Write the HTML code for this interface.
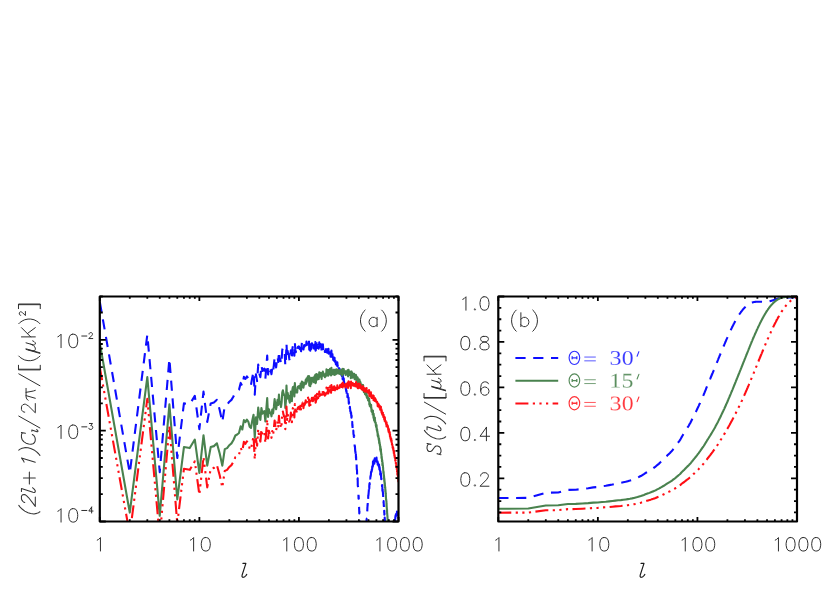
<!DOCTYPE html>
<html><head><meta charset="utf-8"><title>fig</title><style>html,body{margin:0;padding:0;background:#fff}body{width:830px;height:593px;overflow:hidden;font-family:"Liberation Sans",sans-serif}svg{display:block}</style></head><body>
<svg width="830" height="593" viewBox="0 0 830 593">
<rect width="830" height="593" fill="#fff"/>
<defs><clipPath id="c1"><rect x="99.8" y="296.5" width="298.7" height="225.0"/></clipPath>
<clipPath id="c2"><rect x="498.3" y="295.3" width="299.9" height="226.2"/></clipPath></defs>
<g clip-path="url(#c1)">
<path d="M99.80 301.84L129.77 473.23L147.31 334.67L159.75 472.09L169.39 358.69L177.28 458.04L183.94 403.36L189.72 404.37L194.81 395.87L199.37 429.20L203.49 391.58L207.25 421.97L210.71 403.45L213.92 402.50L216.90 399.74L219.69 409.93L222.31 422.08L224.78 405.59L227.12 404.60L229.34 401.70L231.45 399.90L233.46 396.50L235.38 392.06L237.22 391.07L238.99 389.64L240.68 382.94L242.32 386.14L243.89 376.80L245.41 378.87L246.87 376.42L248.29 378.33L249.66 383.63L250.99 384.82L252.28 377.39L253.54 371.73L254.76 394.71L255.94 374.37L257.09 381.08L258.22 364.64L259.31 373.46L260.38 377.21L261.42 365.21L262.44 371.06L263.43 369.27L264.40 368.58L265.36 378.89L266.29 367.14L267.20 355.54L268.09 374.53L268.96 367.00L269.82 370.60L270.66 370.29L271.48 374.17L272.29 367.40L273.08 371.44L273.86 365.01L274.63 357.12L275.38 363.26L276.12 367.46L276.84 361.29L277.56 356.56L278.26 361.93L278.95 351.43L279.64 360.63L280.31 359.16L280.97 364.18L281.62 359.96L282.26 349.99L282.89 347.72L283.51 350.89L284.12 352.80L284.73 353.55L285.32 365.79L285.91 359.09L286.49 343.37L287.07 356.78L287.63 350.83L288.19 353.87L288.74 354.13L289.28 358.92L289.82 361.13L290.35 355.59L290.88 350.19L291.39 353.53L291.91 360.02L292.41 348.44L292.91 346.00L293.41 346.11L293.89 345.74L294.38 355.74L294.86 342.47L295.33 349.42L295.80 352.18L296.26 350.01L296.72 350.81L297.17 352.61L297.62 347.65L298.06 346.76L298.50 347.93L298.93 346.42L299.36 347.46L299.79 349.29L300.21 348.58L300.63 344.58L301.04 351.30L301.45 347.97L301.86 342.82L302.26 345.13L302.66 343.66L303.05 345.71L303.45 349.48L303.83 346.82L304.22 345.08L304.60 346.65L304.98 345.87L305.35 344.71L305.72 342.49L306.09 346.57L306.46 341.58L306.82 345.08L307.18 342.11L307.53 341.67L307.88 339.85L308.24 341.87L308.58 341.84L308.93 340.04L309.27 349.69L309.61 347.57L309.94 342.03L310.28 350.82L310.61 344.40L310.94 344.43L311.26 348.92L311.59 347.34L311.91 343.19L312.23 343.50L312.55 346.46L312.86 347.10L313.17 346.83L313.48 343.85L313.79 348.49L314.10 345.07L314.40 348.65L314.70 343.03L315.00 344.77L315.30 342.14L315.59 350.59L315.89 350.01L316.18 346.87L316.47 342.05L316.75 348.13L317.04 342.72L317.32 345.34L317.60 345.43L317.88 344.33L318.16 348.04L318.44 347.29L318.71 348.67L318.99 345.94L319.26 342.26L319.53 347.11L319.79 345.38L320.06 345.75L320.32 346.22L320.59 347.08L320.85 344.07L321.11 346.73L321.37 348.01L321.62 350.81L321.88 345.03L322.13 345.78L322.38 346.86L322.63 347.87L322.88 344.42L323.13 347.83L323.38 349.17L323.62 346.94L323.87 348.85L324.11 348.41L324.35 349.23L324.59 349.03L324.83 352.00L325.06 350.64L325.30 350.63L325.53 352.01L325.77 350.03L326.00 349.18L326.23 351.74L326.46 345.88L326.69 350.50L326.91 349.64L327.14 352.67L327.37 352.46L327.59 347.84L327.81 349.96L328.03 351.64L328.25 354.11L328.47 348.76L328.69 353.71L328.91 353.06L329.12 352.69L329.34 351.94L329.55 352.81L329.76 353.12L329.97 349.60L330.18 353.32L330.39 352.91L330.60 356.59L330.81 352.79L331.02 357.64L331.22 355.91L331.43 350.60L331.63 356.59L331.83 355.48L332.03 357.79L332.23 358.04L332.43 354.15L332.63 357.29L332.83 356.92L333.03 357.57L333.22 359.89L333.42 357.84L333.61 355.91L333.81 359.48L334.00 357.60L334.19 356.72L334.38 361.12L334.57 357.72L334.76 362.95L334.95 358.69L335.14 360.78L335.32 362.43L335.51 361.01L335.69 362.17L335.88 364.33L336.06 359.87L336.25 360.04L336.43 364.15L336.61 363.43L336.79 363.89L336.97 363.81L337.15 365.90L337.33 362.39L337.50 364.29L337.68 366.37L337.86 365.91L338.03 366.73L338.21 366.11L338.38 365.05L338.55 365.40L338.73 368.71L338.90 367.10L339.07 369.15L339.24 370.94L339.41 370.21L339.58 368.84L339.75 371.76L339.92 370.81L340.08 369.28L340.25 371.58L340.42 372.04L340.58 372.82L340.75 374.71L340.91 372.56L341.07 372.49L341.24 372.79L341.40 375.07L341.56 375.46L341.72 372.94L341.88 376.26L342.04 375.70L342.20 380.29L342.36 377.83L342.52 378.30L342.68 379.48L342.83 375.15L342.99 378.60L343.15 381.56L343.30 378.96L343.46 379.56L343.61 380.02L343.76 378.30L343.92 381.16L344.07 381.56L344.22 383.19L344.37 384.20L344.52 383.20L344.67 383.87L344.82 385.65L344.97 385.55L345.12 385.22L345.27 385.67L345.42 387.34L345.57 390.26L345.71 387.25L345.86 388.75L346.00 390.22L346.15 390.14L346.29 391.78L346.44 390.23L346.58 391.77L346.73 394.33L346.87 391.92L347.01 392.33L347.15 393.98L347.29 393.54L347.44 397.25L347.58 393.68L347.72 395.81L347.86 395.37L348.00 401.49L348.13 400.53L348.27 399.88L348.41 400.16L348.55 397.57L348.69 401.15L348.82 403.66L348.96 401.77L349.09 402.99L349.23 405.09L349.36 403.52L349.50 403.75L349.63 406.63L349.77 408.46L349.90 406.81L350.03 408.01L350.17 409.83L350.30 411.39L350.43 411.39L350.56 411.12L350.69 412.54L350.82 417.54L350.95 413.37L351.08 412.47L351.21 415.42L351.34 415.58L351.47 417.69L351.60 415.59L351.72 419.48L351.85 418.30L351.98 419.03L352.10 422.42L352.23 421.90L352.36 426.26L352.48 424.46L352.61 428.19L352.73 426.16L352.86 428.58L352.98 429.22L353.10 431.22L353.23 430.59L353.35 430.92L353.47 434.31L353.60 434.52L353.72 434.75L353.84 437.07L353.96 435.46L354.08 435.42L354.20 439.12L354.32 440.75L354.44 441.54L354.56 444.07L354.68 446.12L354.80 446.32L354.92 446.12L355.04 448.12L355.16 450.16L355.27 451.60L355.39 451.43L355.51 453.18L355.62 452.97L355.74 456.78L355.86 453.02L355.97 458.15L356.09 456.44L356.20 461.29L356.32 461.48L356.43 464.35L356.55 462.67L356.66 465.61L356.77 469.11L356.89 469.90L357.00 470.23L357.11 475.16L357.23 475.43L357.34 476.88L357.45 480.95L357.56 479.06L357.67 478.38L357.78 485.44L357.89 486.40L358.00 486.44L358.12 487.95L358.22 489.93L358.33 492.73L358.44 495.04L358.55 498.66L358.66 495.86L358.77 498.72L358.88 503.66L358.99 505.04L359.09 507.66L359.20 510.20L359.31 513.51L359.42 511.38L359.52 517.37L359.63 518.70L359.73 522.65L359.84 524.78L359.95 525.90L360.05 530.87L360.16 532.02L360.26 538.14L360.37 539.62L360.47 542.05L360.57 546.48L360.68 552.10L360.78 556.32L360.89 559.62L360.99 564.24L361.09 567.42L361.19 572.81L361.30 578.54L361.40 584.45L361.50 584.99L361.60 584.99L361.70 584.99L361.80 584.99L361.90 584.99L362.01 584.99L362.11 584.99L362.21 584.99L362.31 584.99L362.41 584.99L362.51 584.99L362.60 584.99L362.70 584.99L362.80 584.99L362.90 584.99L363.00 584.99L363.10 584.99L363.20 584.99L363.29 584.99L363.39 584.99L363.49 584.99L363.59 584.99L363.68 584.99L363.78 584.99L363.88 584.99L363.97 584.99L364.07 584.99L364.16 584.99L364.26 584.99L364.35 584.99L364.45 584.64L364.54 580.39L364.64 577.54L364.73 572.34L364.83 569.64L364.92 564.39L365.02 564.77L365.11 559.27L365.20 554.51L365.30 552.21L365.39 549.31L365.48 546.73L365.57 544.93L365.67 543.82L365.76 539.65L365.85 538.49L365.94 536.07L366.04 533.74L366.13 531.53L366.22 530.73L366.31 526.73L366.40 525.47L366.49 522.46L366.58 519.59L366.67 519.51L366.76 518.67L366.85 518.86L366.94 515.70L367.03 513.90L367.12 512.32L367.21 511.20L367.30 510.51L367.39 507.38L367.48 507.01L367.57 504.62L367.65 505.55L367.74 503.07L367.83 500.79L367.92 499.64L368.01 501.36L368.09 499.02L368.18 498.27L368.27 495.31L368.35 495.26L368.44 495.57L368.53 493.84L368.61 493.46L368.70 491.89L368.79 491.55L368.87 489.88L368.96 487.81L369.04 485.66L369.13 486.63L369.21 484.54L369.30 488.42L369.38 484.45L369.47 483.61L369.55 483.22L369.64 483.15L369.72 485.11L369.81 482.93L369.89 481.28L369.97 479.89L370.06 480.81L370.14 479.11L370.22 478.66L370.31 478.04L370.39 477.26L370.47 476.02L370.55 476.57L370.64 475.81L370.72 476.16L370.80 475.04L370.88 475.04L370.97 473.08L371.05 470.65L371.13 470.47L371.21 472.93L371.29 471.16L371.37 471.18L371.45 472.97L371.53 473.04L371.61 470.85L371.69 469.84L371.78 470.90L371.86 470.08L371.94 469.59L372.02 469.34L372.09 469.36L372.17 467.77L372.25 466.39L372.33 466.51L372.41 467.57L372.49 466.41L372.57 465.87L372.65 467.87L372.73 464.21L372.81 465.91L372.88 466.34L372.96 461.60L373.04 465.51L373.12 464.45L373.20 464.70L373.27 462.48L373.35 463.74L373.43 464.90L373.51 465.49L373.58 463.43L373.66 460.34L373.74 463.67L373.81 460.82L373.89 463.10L373.97 463.70L374.04 464.48L374.12 461.86L374.19 461.22L374.27 461.53L374.34 463.63L374.42 461.86L374.50 460.68L374.57 461.57L374.65 460.33L374.72 458.30L374.80 462.24L374.87 457.61L374.95 461.77L375.02 460.59L375.09 460.53L375.17 459.39L375.24 460.70L375.32 460.21L375.39 460.33L375.46 459.68L375.54 459.67L375.61 460.20L375.68 459.19L375.76 458.53L375.83 460.90L375.90 460.83L375.98 460.89L376.05 460.98L376.12 460.95L376.19 460.21L376.27 459.47L376.34 461.10L376.41 459.94L376.48 460.93L376.56 457.66L376.63 460.33L376.70 459.86L376.77 461.83L376.84 461.78L376.91 460.70L376.98 461.86L377.06 461.20L377.13 459.95L377.20 462.15L377.27 462.39L377.34 461.43L377.41 462.02L377.48 461.18L377.55 462.16L377.62 463.31L377.69 464.62L377.76 462.10L377.83 463.40L377.90 462.68L377.97 464.93L378.04 463.98L378.11 462.97L378.18 462.42L378.25 462.59L378.31 462.56L378.38 464.18L378.45 463.33L378.52 464.23L378.59 465.09L378.66 465.55L378.73 466.13L378.79 464.42L378.86 465.73L378.93 466.81L379.00 466.43L379.07 464.51L379.13 468.33L379.20 468.56L379.27 465.83L379.34 469.20L379.40 466.47L379.47 468.87L379.54 468.14L379.61 467.47L379.67 467.79L379.74 468.68L379.81 469.87L379.87 470.48L379.94 470.79L380.01 469.19L380.07 470.87L380.14 470.32L380.20 474.49L380.27 472.70L380.34 472.37L380.40 473.49L380.47 471.18L380.53 475.08L380.60 473.70L380.66 473.72L380.73 475.97L380.79 474.58L380.86 475.48L380.92 473.25L380.99 475.23L381.05 477.29L381.12 476.66L381.18 477.73L381.25 479.12L381.31 478.40L381.38 479.06L381.44 478.38L381.50 482.07L381.57 482.52L381.63 482.40L381.70 481.40L381.76 481.48L381.82 483.29L381.89 483.43L381.95 484.20L382.01 486.52L382.08 486.24L382.14 484.97L382.20 485.62L382.27 485.85L382.33 486.96L382.39 490.94L382.45 488.59L382.52 489.14L382.58 491.55L382.64 488.81L382.70 491.58L382.77 491.08L382.83 491.91L382.89 492.77L382.95 492.62L383.02 494.92L383.08 494.48L383.14 495.70L383.20 498.17L383.26 498.29L383.32 499.60L383.38 500.96L383.45 501.49L383.51 500.13L383.57 502.88L383.63 501.17L383.69 503.25L383.75 504.08L383.81 505.91L383.87 505.06L383.93 507.24L383.99 506.48L384.05 507.30L384.11 510.66L384.17 509.29L384.23 512.82L384.30 510.76L384.36 514.72L384.42 514.57L384.47 513.10L384.53 515.19L384.59 515.68L384.65 519.92L384.71 517.62L384.77 520.31L384.83 518.80L384.89 521.51L384.95 522.74L385.01 525.40L385.07 525.78L385.13 526.01L385.19 525.73L385.25 526.99L385.30 529.75L385.36 531.87L385.42 533.18L385.48 531.43L385.54 534.12L385.60 536.80L385.65 535.48L385.71 537.80L385.77 538.93L385.83 540.22L385.89 542.15L385.94 544.45L386.00 547.07L386.06 548.26L386.12 549.31L386.18 549.43L386.23 552.29L386.29 552.33L386.35 553.87L386.40 554.94L386.46 556.62L386.52 562.67L386.58 560.09L386.63 563.34L386.69 565.28L386.75 567.99L386.80 569.06L386.86 571.22L386.92 574.08L386.97 577.40L387.03 576.34L387.09 579.38L387.14 583.25L387.20 584.99L387.25 584.99L387.31 584.99L387.37 584.99L387.42 584.99L387.48 584.99L387.53 584.99L387.59 584.99L387.65 584.99L387.70 584.99L387.76 584.99L387.81 584.99L387.87 584.99L387.92 584.99L387.98 584.99L388.03 584.99L388.09 584.99L388.14 584.99L388.20 584.99L388.25 584.99L388.31 584.99L388.36 584.99L388.42 584.99L388.47 584.99L388.53 584.99L388.58 584.99L388.63 584.99L388.69 584.99L388.74 584.99L388.80 584.99L388.85 584.99L388.91 584.99L388.96 584.99L389.01 584.99L389.07 584.99L389.12 584.99L389.17 584.99L389.23 584.99L389.28 584.99L389.33 584.99L389.39 584.99L389.44 584.99L389.49 584.99L389.55 584.99L389.60 584.99L389.65 584.99L389.71 584.99L389.76 584.99L389.81 584.99L389.87 584.99L389.92 584.99L389.97 584.99L390.02 584.99L390.08 584.99L390.13 584.99L390.18 584.99L390.23 584.99L390.29 584.99L390.34 584.99L390.39 584.99L390.44 584.99L390.49 584.99L390.55 584.99L390.60 584.99L390.65 584.99L390.70 584.99L390.75 584.99L390.81 584.99L390.86 584.99L390.91 584.99L390.96 584.99L391.01 584.99L391.06 584.99L391.11 583.84L391.17 582.88L391.22 578.85L391.27 579.38L391.32 577.99L391.37 575.27L391.42 574.78L391.47 571.40L391.52 570.82L391.57 570.37L391.62 566.12L391.68 567.32L391.73 565.65L391.78 564.02L391.83 562.73L391.88 561.44L391.93 561.85L391.98 559.38L392.03 560.19L392.08 557.40L392.13 556.18L392.18 554.48L392.23 554.69L392.28 552.65L392.33 552.32L392.38 550.85L392.43 550.83L392.48 548.10L392.53 547.24L392.58 548.69L392.63 546.57L392.68 545.80L392.73 546.47L392.78 544.97L392.82 543.22L392.87 543.32L392.92 541.27L392.97 539.98L393.02 540.49L393.07 538.60L393.12 537.16L393.17 538.33L393.22 535.96L393.27 535.27L393.31 534.44L393.36 535.03L393.41 534.15L393.46 534.54L393.51 532.36L393.56 531.88L393.61 531.64L393.65 531.43L393.70 531.48L393.75 532.42L393.80 530.30L393.85 530.86L393.90 528.87L393.94 529.00L393.99 525.60L394.04 527.83L394.09 527.65L394.14 524.66L394.18 527.38L394.23 524.34L394.28 523.87L394.33 524.66L394.37 525.39L394.42 524.31L394.47 523.23L394.52 522.18L394.56 522.09L394.61 521.83L394.66 522.27L394.71 520.54L394.75 522.13L394.80 521.48L394.85 520.37L394.89 519.51L394.94 519.48L394.99 519.14L395.04 519.76L395.08 518.14L395.13 520.67L395.18 519.10L395.22 519.45L395.27 518.98L395.32 517.35L395.36 516.77L395.41 518.18L395.45 517.06L395.50 515.12L395.55 516.35L395.59 515.10L395.64 515.27L395.69 514.98L395.73 516.14L395.78 515.36L395.82 513.46L395.87 516.06L395.92 516.23L395.96 513.94L396.01 515.45L396.05 514.74L396.10 514.12L396.15 514.90L396.19 514.64L396.24 515.39L396.28 514.36L396.33 515.33L396.37 513.69L396.42 513.88L396.46 512.94L396.51 514.06L396.55 512.82L396.60 512.68L396.64 512.56L396.69 512.95L396.73 513.20L396.78 513.32L396.82 513.95L396.87 513.57L396.91 513.55L396.96 511.66L397.00 514.60L397.05 513.75L397.09 513.29L397.14 514.38L397.18 512.92L397.23 514.17L397.27 513.32L397.32 513.64L397.36 515.73L397.41 513.25L397.45 514.97L397.49 513.62L397.54 512.68L397.58 513.28L397.63 514.14L397.67 514.17L397.71 514.16L397.76 514.61L397.80 515.26L397.85 514.63L397.89 514.81L397.93 513.07L397.98 514.56L398.02 513.17L398.07 515.31L398.11 515.11L398.15 515.55L398.20 516.46L398.24 516.73L398.28 516.31L398.33 515.39L398.37 517.36L398.41 517.79L398.46 516.85L398.50 517.56" fill="none" stroke="#0d0dff" stroke-width="2.10" stroke-linejoin="round" stroke-dasharray="10.2 7.6"/>
<path d="M99.80 343.13L129.77 512.57L147.31 377.04L159.75 515.82L169.39 404.39L177.28 499.42L183.94 447.07L189.72 448.07L194.81 439.56L199.37 472.87L203.49 435.24L207.25 465.63L210.71 447.09L213.92 446.12L216.90 443.34L219.69 453.52L222.31 465.65L224.78 449.14L227.12 448.13L229.34 445.21L231.45 443.38L233.46 439.96L235.38 435.50L237.22 434.48L238.99 433.03L240.68 426.29L242.32 429.46L243.89 420.09L245.41 422.13L246.87 419.64L248.29 421.52L249.66 426.79L250.99 427.94L252.28 420.47L253.54 414.77L254.76 437.71L255.94 417.33L257.09 424.00L258.22 407.52L259.31 416.29L260.38 420.00L261.42 407.94L262.44 413.75L263.43 411.91L264.40 411.17L265.36 421.43L266.29 409.63L267.20 397.97L268.09 416.91L268.96 409.32L269.82 412.86L270.66 412.50L271.48 416.31L272.29 409.48L273.08 413.46L273.86 406.97L274.63 399.01L275.38 405.09L276.12 409.22L276.84 404.53L277.56 399.73L278.26 405.03L278.95 394.46L279.64 403.59L280.31 402.05L280.97 406.99L281.62 402.69L282.26 392.64L282.89 390.29L283.51 393.39L284.12 395.21L284.73 395.89L285.32 408.03L285.91 401.25L286.49 385.45L287.07 398.77L287.63 392.73L288.19 395.68L288.74 395.86L289.28 400.55L289.82 402.66L290.35 397.03L290.88 391.53L291.39 394.78L291.91 401.18L292.41 389.49L292.91 386.95L293.41 386.96L293.89 386.48L294.38 396.38L294.86 383.01L295.33 389.85L295.80 392.50L296.26 390.23L296.72 390.91L297.17 392.60L297.62 387.53L298.06 386.53L298.50 387.58L298.93 385.95L299.36 386.88L299.79 388.59L300.21 387.76L300.63 383.64L301.04 390.23L301.45 386.78L301.86 381.50L302.26 383.68L302.66 382.09L303.05 384.01L303.45 387.65L303.83 384.86L304.22 382.98L304.60 384.42L304.98 383.50L305.35 382.20L305.72 379.84L306.09 383.78L306.46 378.65L306.82 382.00L307.18 378.89L307.53 378.30L307.88 376.34L308.24 378.21L308.58 378.04L308.93 376.08L309.27 385.58L309.61 383.31L309.94 377.61L310.28 386.24L310.61 379.66L310.94 379.53L311.26 383.86L311.59 382.12L311.91 377.81L312.23 377.95L312.55 380.75L312.86 381.23L313.17 380.78L313.48 377.63L313.79 382.10L314.10 378.50L314.40 381.92L314.70 376.11L315.00 377.68L315.30 374.87L315.59 383.14L315.89 382.38L316.18 379.05L316.47 374.05L316.75 379.93L317.04 374.34L317.32 376.77L317.60 376.67L317.88 375.37L318.16 378.90L318.44 377.95L318.71 379.13L318.99 376.20L319.26 372.32L319.53 376.97L319.79 375.03L320.06 375.20L320.32 375.46L320.59 376.11L320.85 372.89L321.11 375.34L321.37 376.41L321.62 378.99L321.88 373.00L322.13 373.53L322.38 374.39L322.63 375.18L322.88 371.51L323.13 374.69L323.38 375.80L323.62 373.34L323.87 375.02L324.11 374.36L324.35 374.95L324.59 374.51L324.83 377.24L325.06 375.64L325.30 375.39L325.53 376.53L325.77 374.30L326.00 373.21L326.23 375.52L326.46 369.42L326.69 373.79L326.91 372.68L327.14 375.45L327.37 374.98L327.59 370.11L327.81 371.96L328.03 373.38L328.25 375.60L328.47 369.98L328.69 374.66L328.91 373.74L329.12 373.10L329.34 372.08L329.55 372.68L329.76 372.71L329.97 368.90L330.18 372.34L330.39 371.66L330.60 375.05L330.81 370.96L331.02 375.52L331.22 373.50L331.43 367.90L331.63 373.60L331.83 372.18L332.03 374.20L332.23 374.15L332.43 369.96L332.63 372.79L332.83 372.11L333.03 372.45L333.22 374.46L333.42 372.09L333.61 369.85L333.81 373.11L334.00 370.90L334.19 369.70L334.38 373.77L334.57 370.04L334.76 374.94L334.95 370.36L335.14 372.11L335.32 373.42L335.51 371.66L335.69 372.48L335.88 374.30L336.06 369.49L336.25 369.31L336.43 373.07L336.61 371.99L336.79 372.11L336.97 371.67L337.15 373.39L337.33 369.52L337.50 371.05L337.68 372.76L337.86 371.93L338.03 372.37L338.21 371.38L338.38 369.94L338.55 369.90L338.73 372.84L338.90 370.84L339.07 372.49L339.24 373.89L339.41 372.77L339.58 370.99L339.75 373.51L339.92 372.16L340.08 370.22L340.25 372.11L340.42 372.16L340.58 372.53L340.75 374.00L340.91 371.41L341.07 370.93L341.24 370.79L341.40 372.64L341.56 372.60L341.72 369.64L341.88 372.52L342.04 371.51L342.20 375.65L342.36 372.74L342.52 372.75L342.68 373.48L342.83 368.69L342.99 371.67L343.15 374.16L343.30 371.09L343.46 371.22L343.61 371.19L343.76 368.99L343.92 371.36L344.07 371.27L344.22 372.40L344.37 372.92L344.52 371.42L344.67 371.58L344.82 372.85L344.97 372.24L345.12 371.39L345.27 371.31L345.42 372.45L345.57 374.84L345.71 371.30L345.86 372.26L346.00 373.19L346.15 372.55L346.29 373.64L346.44 371.53L346.58 372.51L346.73 374.51L346.87 371.53L347.01 371.36L347.15 372.43L347.29 371.40L347.44 374.52L347.58 370.35L347.72 371.88L347.86 370.84L348.00 376.34L348.13 374.77L348.27 373.49L348.41 373.15L348.55 369.92L348.69 372.87L348.82 374.73L348.96 372.19L349.09 372.75L349.23 374.19L349.36 371.95L349.50 371.50L349.63 373.70L349.77 374.85L349.90 372.50L350.03 373.00L350.17 374.11L350.30 374.96L350.43 374.24L350.56 373.24L350.69 373.92L350.82 378.18L350.95 373.26L351.08 371.61L351.21 373.79L351.34 373.17L351.47 374.51L351.60 371.61L351.72 374.71L351.85 372.72L351.98 372.64L352.10 375.20L352.23 373.85L352.36 377.37L352.48 374.72L352.61 377.58L352.73 374.69L352.86 376.23L352.98 375.98L353.10 377.08L353.23 375.54L353.35 374.95L353.47 377.41L353.60 376.67L353.72 375.95L353.84 377.30L353.96 374.71L354.08 373.68L354.20 376.38L354.32 376.99L354.44 376.76L354.56 378.24L354.68 379.24L354.80 378.37L354.92 377.08L355.04 377.98L355.16 378.90L355.27 379.21L355.39 377.89L355.51 378.48L355.62 377.09L355.74 379.70L355.86 374.73L355.97 378.62L356.09 375.65L356.20 379.23L356.32 378.13L356.43 379.68L356.55 376.66L356.66 378.24L356.77 380.35L356.89 379.74L357.00 378.63L357.11 382.11L357.23 380.90L357.34 380.84L357.45 383.37L357.56 379.90L357.67 377.62L357.78 383.04L357.89 382.34L358.00 380.68L358.12 380.45L358.22 380.66L358.33 381.64L358.44 382.10L358.55 383.82L358.66 379.08L358.77 379.94L358.88 382.85L358.99 382.13L359.09 382.60L359.20 382.94L359.31 383.98L359.42 379.51L359.52 383.11L359.63 381.96L359.73 383.36L359.84 382.86L359.95 381.26L360.05 383.41L360.16 381.65L360.26 384.74L360.37 383.08L360.47 382.25L360.57 383.28L360.68 385.35L360.78 385.85L360.89 385.26L360.99 385.79L361.09 384.66L361.19 385.50L361.30 386.41L361.40 387.19L361.50 386.58L361.60 385.95L361.70 385.11L361.80 385.73L361.90 385.53L362.01 384.89L362.11 386.18L362.21 388.80L362.31 387.38L362.41 389.00L362.51 387.23L362.60 389.80L362.70 387.83L362.80 387.76L362.90 387.33L363.00 388.28L363.10 385.03L363.20 389.18L363.29 387.72L363.39 389.56L363.49 390.38L363.59 389.90L363.68 391.35L363.78 389.44L363.88 392.13L363.97 388.96L364.07 390.28L364.16 389.54L364.26 392.06L364.35 388.85L364.45 389.41L364.54 389.88L364.64 391.49L364.73 390.48L364.83 391.77L364.92 390.29L365.02 394.28L365.11 392.20L365.20 390.73L365.30 391.57L365.39 391.69L365.48 392.00L365.57 392.99L365.67 394.56L365.76 392.99L365.85 394.33L365.94 394.32L366.04 394.34L366.13 394.39L366.22 395.79L366.31 393.93L366.40 394.74L366.49 393.74L366.58 392.82L366.67 394.64L366.76 395.65L366.85 397.65L366.94 396.25L367.03 396.17L367.12 396.26L367.21 396.77L367.30 397.68L367.39 396.11L367.48 397.26L367.57 396.37L367.65 398.75L367.74 397.70L367.83 396.82L367.92 397.04L368.01 400.10L368.09 399.07L368.18 399.61L368.27 397.91L368.35 399.10L368.44 400.62L368.53 400.09L368.61 400.88L368.70 400.46L368.79 401.24L368.87 400.68L368.96 399.69L369.04 398.61L369.13 400.63L369.21 399.58L369.30 404.47L369.38 401.50L369.47 401.64L369.55 402.22L369.64 403.10L369.72 406.00L369.81 404.73L369.89 403.99L369.97 403.49L370.06 405.29L370.14 404.46L370.22 404.85L370.31 405.07L370.39 405.12L370.47 404.69L370.55 406.04L370.64 406.07L370.72 407.20L370.80 406.85L370.88 407.60L370.97 406.39L371.05 404.69L371.13 405.23L371.21 408.40L371.29 407.34L371.37 408.05L371.45 410.53L371.53 411.27L371.61 409.74L371.69 409.39L371.78 411.09L371.86 410.91L371.94 411.05L372.02 411.42L372.09 412.05L372.17 411.07L372.25 410.28L372.33 410.99L372.41 412.63L372.49 412.04L372.57 412.07L372.65 414.62L372.73 411.52L372.81 413.76L372.88 414.72L372.96 410.51L373.04 414.94L373.12 414.39L373.20 415.15L373.27 413.44L373.35 415.18L373.43 416.83L373.51 417.91L373.58 416.32L373.66 413.70L373.74 417.49L373.81 415.09L373.89 417.83L373.97 418.87L374.04 420.08L374.12 417.90L374.19 417.68L374.27 418.41L374.34 420.93L374.42 419.57L374.50 418.79L374.57 420.08L374.65 419.23L374.72 417.59L374.80 421.91L374.87 417.66L374.95 422.19L375.02 421.37L375.09 421.68L375.17 420.89L375.24 422.55L375.32 422.41L375.39 422.87L375.46 422.56L375.54 422.88L375.61 423.74L375.68 423.05L375.76 422.71L375.83 425.39L375.90 425.63L375.98 425.99L376.05 426.38L376.12 426.65L376.19 426.19L376.27 425.74L376.34 427.65L376.41 426.76L376.48 428.02L376.56 425.02L376.63 427.95L376.70 427.74L376.77 429.96L376.84 430.17L376.91 429.33L376.98 430.73L377.06 430.30L377.13 429.29L377.20 431.72L377.27 432.18L377.34 431.43L377.41 432.25L377.48 431.62L377.55 432.81L377.62 434.16L377.69 435.66L377.76 433.34L377.83 434.83L377.90 434.30L377.97 436.73L378.04 435.95L378.11 435.12L378.18 434.74L378.25 435.08L378.31 435.21L378.38 436.99L378.45 436.29L378.52 437.33L378.59 438.34L378.66 438.94L378.73 439.66L378.79 438.09L378.86 439.52L378.93 440.73L379.00 440.47L379.07 438.67L379.13 442.60L379.20 442.94L379.27 440.32L379.34 443.78L379.40 441.15L379.47 443.65L379.54 443.00L379.61 442.42L379.67 442.81L379.74 443.78L379.81 445.04L379.87 445.72L379.94 446.10L380.01 444.56L380.07 446.29L380.14 445.79L380.20 450.00L380.27 448.26L380.34 447.97L380.40 449.12L380.47 446.84L380.53 450.77L380.60 449.41L380.66 449.44L380.73 451.71L380.79 450.32L380.86 451.23L380.92 449.00L380.99 450.97L381.05 453.03L381.12 452.38L381.18 453.42L381.25 454.79L381.31 454.05L381.38 454.67L381.44 453.95L381.50 457.60L381.57 458.00L381.63 457.83L381.70 456.77L381.76 456.79L381.82 458.53L381.89 458.60L381.95 459.29L382.01 461.52L382.08 461.16L382.14 459.79L382.20 460.34L382.27 460.47L382.33 461.46L382.39 465.33L382.45 462.86L382.52 463.28L382.58 465.56L382.64 462.68L382.70 465.30L382.77 464.65L382.83 465.33L382.89 466.01L382.95 465.70L383.02 467.82L383.08 467.20L383.14 468.23L383.20 470.50L383.26 470.42L383.32 471.52L383.38 472.66L383.45 472.97L383.51 471.38L383.57 473.89L383.63 471.93L383.69 473.76L383.75 474.32L383.81 475.88L383.87 474.76L383.93 476.65L383.99 475.59L384.05 476.11L384.11 479.16L384.17 477.46L384.23 480.66L384.30 478.26L384.36 481.87L384.42 481.36L384.47 479.52L384.53 481.22L384.59 481.33L384.65 485.15L384.71 482.44L384.77 484.71L384.83 482.76L384.89 485.02L384.95 485.79L385.01 487.97L385.07 487.87L385.13 487.59L385.19 486.80L385.25 487.52L385.30 489.74L385.36 491.30L385.42 492.03L385.48 489.69L385.54 491.77L385.60 493.83L385.65 491.86L385.71 493.51L385.77 493.97L385.83 494.55L385.89 495.76L385.94 497.32L386.00 499.17L386.06 499.57L386.12 499.80L386.18 499.09L386.23 501.09L386.29 500.24L386.35 500.86L386.40 500.98L386.46 501.68L386.52 506.72L386.58 503.10L386.63 505.27L386.69 506.09L386.75 507.65L386.80 507.52L386.86 508.44L386.92 510.02L386.97 512.01L387.03 509.57L387.09 511.17L387.14 513.56L387.20 513.85L387.25 513.41L387.31 515.57L387.37 515.56L387.42 515.67L387.48 516.71L387.53 518.58L387.59 520.18L387.65 520.55L387.70 520.31L387.76 522.14L387.81 521.22L387.87 522.00L387.92 523.21L387.98 524.91L388.03 527.76L388.09 525.83L388.14 527.71L388.20 530.09L388.25 531.28L388.31 532.02L388.36 532.25L388.42 534.83L388.47 533.27L388.53 535.82L388.58 535.96L388.63 539.25L388.69 535.72L388.74 538.72L388.80 540.92L388.85 543.10L388.91 541.57L388.96 544.58L389.01 545.75L389.07 547.38L389.12 548.90L389.17 548.94L389.23 550.05L389.28 551.71L389.33 553.62L389.39 552.32L389.44 553.49L389.49 557.20L389.55 556.40L389.60 558.95L389.65 560.41L389.71 559.75L389.76 561.24L389.81 564.94L389.87 565.26L389.92 568.01L389.97 570.48L390.02 569.54L390.08 571.48L390.13 572.77L390.18 572.89L390.23 576.95L390.29 577.83L390.34 579.83L390.39 583.54L390.44 583.62L390.49 584.99L390.55 584.99L390.60 584.99L390.65 584.99L390.70 584.99L390.75 584.99L390.81 584.99L390.86 584.99L390.91 584.99L390.96 584.99L391.01 584.99L391.06 584.99L391.11 584.99L391.17 584.99L391.22 584.99L391.27 584.99L391.32 584.99L391.37 584.99L391.42 584.99L391.47 584.99L391.52 584.99L391.57 584.99L391.62 584.99L391.68 584.99L391.73 584.99L391.78 584.99L391.83 584.99L391.88 584.99L391.93 584.99L391.98 584.99L392.03 584.99L392.08 584.99L392.13 584.99L392.18 584.99L392.23 584.99L392.28 584.99L392.33 584.99L392.38 584.99L392.43 584.99L392.48 584.99L392.53 584.99L392.58 584.99L392.63 584.99L392.68 584.99L392.73 584.99L392.78 584.99L392.82 584.99L392.87 584.99L392.92 584.99L392.97 584.99L393.02 584.99L393.07 584.99L393.12 584.99L393.17 584.99L393.22 584.99L393.27 584.99L393.31 584.99L393.36 584.99L393.41 584.99L393.46 584.99L393.51 584.99L393.56 584.99L393.61 584.99L393.65 584.99L393.70 584.99L393.75 584.99L393.80 584.99L393.85 584.99L393.90 584.99L393.94 584.99L393.99 584.99L394.04 584.99L394.09 584.99L394.14 584.99L394.18 584.99L394.23 584.99L394.28 584.99L394.33 584.99L394.37 584.99L394.42 584.99L394.47 584.99L394.52 584.99L394.56 584.99L394.61 584.99L394.66 584.99L394.71 584.99L394.75 584.99L394.80 584.99L394.85 584.99L394.89 584.99L394.94 584.99L394.99 584.99L395.04 584.99L395.08 584.99L395.13 584.99L395.18 584.99L395.22 584.99L395.27 584.99L395.32 584.99L395.36 584.99L395.41 584.99L395.45 584.99L395.50 584.75L395.55 584.91L395.59 582.61L395.64 581.74L395.69 580.44L395.73 580.59L395.78 578.82L395.82 575.95L395.87 577.59L395.92 576.82L395.96 573.60L396.01 574.19L396.05 572.58L396.10 571.06L396.15 570.95L396.19 569.83L396.24 569.71L396.28 567.82L396.33 567.95L396.37 565.48L396.42 564.83L396.46 563.08L396.51 563.39L396.55 561.35L396.60 560.40L396.64 559.50L396.69 559.10L396.73 558.57L396.78 557.92L396.82 557.79L396.87 556.65L396.91 555.87L396.96 553.23L397.00 555.43L397.05 553.84L397.09 552.65L397.14 553.01L397.18 550.82L397.23 551.34L397.27 549.77L397.32 549.39L397.36 550.76L397.41 547.57L397.45 548.58L397.49 546.52L397.54 544.88L397.58 544.79L397.63 544.95L397.67 544.29L397.71 543.58L397.76 543.34L397.80 543.30L397.85 541.98L397.89 541.47L397.93 539.05L397.98 539.86L398.02 537.79L398.07 539.24L398.11 538.37L398.15 538.12L398.20 538.36L398.24 537.95L398.28 536.85L398.33 535.25L398.37 536.54L398.41 536.30L398.46 534.68L398.50 534.71" fill="none" stroke="#49824e" stroke-width="2.10" stroke-linejoin="round"/>
<path d="M99.80 367.35L129.77 534.35L147.31 398.82L159.75 537.59L169.39 426.17L177.28 523.53L183.94 468.84L189.72 469.84L194.81 461.33L199.37 494.64L203.49 457.01L207.25 487.39L210.71 468.85L213.92 467.88L216.90 465.10L219.69 475.27L222.31 487.40L224.78 470.89L227.12 469.87L229.34 466.95L231.45 465.12L233.46 461.69L235.38 457.22L237.22 456.20L238.99 454.74L240.68 448.01L242.32 451.17L243.89 441.79L245.41 443.82L246.87 441.33L248.29 443.21L249.66 448.46L250.99 449.61L252.28 442.13L253.54 436.43L254.76 459.36L255.94 438.97L257.09 445.63L258.22 429.15L259.31 437.91L260.38 441.61L261.42 429.55L262.44 435.34L263.43 433.50L264.40 432.74L265.36 442.99L266.29 431.18L267.20 419.52L268.09 438.45L268.96 430.85L269.82 434.38L270.66 434.01L271.48 437.81L272.29 430.97L273.08 434.94L273.86 428.44L274.63 420.47L275.38 426.53L276.12 430.65L276.84 425.95L277.56 421.14L278.26 426.43L278.95 415.84L279.64 424.96L280.31 423.40L280.97 428.33L281.62 424.02L282.26 413.96L282.89 411.60L283.51 414.68L284.12 416.49L284.73 417.15L285.32 429.28L285.91 422.49L286.49 406.67L287.07 419.97L287.63 413.91L288.19 416.85L288.74 417.01L289.28 421.69L289.82 423.79L290.35 418.14L290.88 412.62L291.39 415.85L291.91 422.23L292.41 410.53L292.91 407.98L293.41 407.97L293.89 407.47L294.38 417.35L294.86 403.96L295.33 410.79L295.80 413.42L296.26 411.12L296.72 411.79L297.17 413.46L297.62 408.37L298.06 407.35L298.50 408.38L298.93 406.73L299.36 407.64L299.79 409.33L300.21 408.48L300.63 404.33L301.04 410.91L301.45 407.44L301.86 402.13L302.26 404.29L302.66 402.68L303.05 404.57L303.45 408.19L303.83 405.38L304.22 403.48L304.60 404.90L304.98 403.95L305.35 402.63L305.72 400.25L306.09 404.16L306.46 399.01L306.82 402.34L307.18 399.20L307.53 398.59L307.88 396.61L308.24 398.45L308.58 398.25L308.93 396.26L309.27 405.74L309.61 403.44L309.94 397.72L310.28 406.32L310.61 399.72L310.94 399.56L311.26 403.87L311.59 402.10L311.91 397.76L312.23 397.88L312.55 400.65L312.86 401.09L313.17 400.62L313.48 397.44L313.79 401.88L314.10 398.26L314.40 401.64L314.70 395.81L315.00 397.34L315.30 394.50L315.59 402.75L315.89 401.95L316.18 398.59L316.47 393.56L316.75 399.42L317.04 393.79L317.32 396.19L317.60 396.06L317.88 394.73L318.16 398.23L318.44 397.24L318.71 398.39L318.99 395.43L319.26 391.52L319.53 396.13L319.79 394.16L320.06 394.30L320.32 394.53L320.59 395.15L320.85 391.89L321.11 394.31L321.37 395.34L321.62 397.89L321.88 391.86L322.13 392.36L322.38 393.18L322.63 393.93L322.88 390.23L323.13 393.38L323.38 394.45L323.62 391.96L323.87 393.60L324.11 392.90L324.35 393.45L324.59 392.97L324.83 395.67L325.06 394.03L325.30 393.74L325.53 394.85L325.77 392.58L326.00 391.44L326.23 393.72L326.46 387.58L326.69 391.91L326.91 390.76L327.14 393.49L327.37 392.98L327.59 388.06L327.81 389.88L328.03 391.26L328.25 393.43L328.47 387.78L328.69 392.41L328.91 391.46L329.12 390.78L329.34 389.70L329.55 390.26L329.76 390.25L329.97 386.40L330.18 389.80L330.39 389.07L330.60 392.42L330.81 388.29L331.02 392.80L331.22 390.74L331.43 385.10L331.63 390.75L331.83 389.29L332.03 391.26L332.23 391.17L332.43 386.93L332.63 389.71L332.83 388.99L333.03 389.28L333.22 391.25L333.42 388.83L333.61 386.54L333.81 389.75L334.00 387.50L334.19 386.25L334.38 390.28L334.57 386.50L334.76 391.35L334.95 386.71L335.14 388.42L335.32 389.68L335.51 387.87L335.69 388.64L335.88 390.41L336.06 385.55L336.25 385.32L336.43 389.03L336.61 387.91L336.79 387.96L336.97 387.48L337.15 389.15L337.33 385.22L337.50 386.71L337.68 388.36L337.86 387.48L338.03 387.87L338.21 386.83L338.38 385.33L338.55 385.24L338.73 388.12L338.90 386.07L339.07 387.67L339.24 389.01L339.41 387.84L339.58 386.00L339.75 388.47L339.92 387.06L340.08 385.07L340.25 386.89L340.42 386.89L340.58 387.20L340.75 388.61L340.91 385.98L341.07 385.43L341.24 385.24L341.40 387.03L341.56 386.93L341.72 383.91L341.88 386.73L342.04 385.66L342.20 389.75L342.36 386.77L342.52 386.73L342.68 387.39L342.83 382.54L342.99 385.46L343.15 387.90L343.30 384.77L343.46 384.83L343.61 384.75L343.76 382.48L343.92 384.79L344.07 384.63L344.22 385.71L344.37 386.16L344.52 384.60L344.67 384.69L344.82 385.90L344.97 385.22L345.12 384.31L345.27 384.17L345.42 385.25L345.57 387.57L345.71 383.96L345.86 384.86L346.00 385.72L346.15 385.02L346.29 386.04L346.44 383.87L346.58 384.78L346.73 386.71L346.87 383.66L347.01 383.43L347.15 384.43L347.29 383.33L347.44 386.38L347.58 382.15L347.72 383.61L347.86 382.49L348.00 387.93L348.13 386.29L348.27 384.94L348.41 384.52L348.55 381.23L348.69 384.10L348.82 385.89L348.96 383.28L349.09 383.77L349.23 385.13L349.36 382.82L349.50 382.30L349.63 384.43L349.77 385.50L349.90 383.08L350.03 383.51L350.17 384.55L350.30 385.32L350.43 384.52L350.56 383.44L350.69 384.06L350.82 388.24L350.95 383.24L351.08 381.51L351.21 383.62L351.34 382.92L351.47 384.18L351.60 381.21L351.72 384.23L351.85 382.17L351.98 382.00L352.10 384.49L352.23 383.06L352.36 386.50L352.48 383.77L352.61 386.55L352.73 383.58L352.86 385.03L352.98 384.71L353.10 385.72L353.23 384.10L353.35 383.43L353.47 385.80L353.60 384.99L353.72 384.18L353.84 385.45L353.96 382.78L354.08 381.66L354.20 384.28L354.32 384.81L354.44 384.48L354.56 385.89L354.68 386.79L354.80 385.84L354.92 384.46L355.04 385.28L355.16 386.11L355.27 386.33L355.39 384.93L355.51 385.43L355.62 383.95L355.74 386.47L355.86 381.41L355.97 385.21L356.09 382.16L356.20 385.64L356.32 384.46L356.43 385.91L356.55 382.81L356.66 384.30L356.77 386.32L356.89 385.61L357.00 384.41L357.11 387.80L357.23 386.49L357.34 386.34L357.45 388.77L357.56 385.21L357.67 382.84L357.78 388.17L357.89 387.37L358.00 385.62L358.12 385.29L358.22 385.40L358.33 386.29L358.44 386.65L358.55 388.27L358.66 383.43L358.77 384.20L358.88 387.01L358.99 386.19L359.09 386.56L359.20 386.80L359.31 387.74L359.42 383.18L359.52 386.67L359.63 385.42L359.73 386.72L359.84 386.12L359.95 384.42L360.05 386.47L360.16 384.61L360.26 387.59L360.37 385.83L360.47 384.89L360.57 385.81L360.68 387.78L360.78 388.17L360.89 387.48L360.99 387.91L361.09 386.67L361.19 387.41L361.30 388.21L361.40 388.88L361.50 388.16L361.60 387.42L361.70 386.48L361.80 386.99L361.90 386.67L362.01 385.93L362.11 387.11L362.21 389.62L362.31 388.08L362.41 389.60L362.51 387.72L362.60 390.17L362.70 388.09L362.80 387.91L362.90 387.36L363.00 388.20L363.10 384.83L363.20 388.87L363.29 387.30L363.39 389.02L363.49 389.73L363.59 389.13L363.68 390.46L363.78 388.43L363.88 391.00L363.97 387.71L364.07 388.92L364.16 388.06L364.26 390.46L364.35 387.13L364.45 387.57L364.54 387.92L364.64 389.40L364.73 388.27L364.83 389.44L364.92 387.84L365.02 391.70L365.11 389.51L365.20 387.91L365.30 388.62L365.39 388.62L365.48 388.81L365.57 389.67L365.67 391.11L365.76 389.41L365.85 390.63L365.94 390.49L366.04 390.38L366.13 390.30L366.22 391.57L366.31 389.58L366.40 390.26L366.49 389.13L366.58 388.08L366.67 389.77L366.76 390.65L366.85 392.51L366.94 390.98L367.03 390.76L367.12 390.72L367.21 391.10L367.30 391.87L367.39 390.17L367.48 391.18L367.57 390.15L367.65 392.40L367.74 391.21L367.83 390.19L367.92 390.26L368.01 393.19L368.09 392.02L368.18 392.42L368.27 390.58L368.35 391.63L368.44 393.01L368.53 392.33L368.61 392.97L368.70 392.41L368.79 393.05L368.87 392.34L368.96 391.21L369.04 389.99L369.13 391.86L369.21 390.66L369.30 395.40L369.38 392.28L369.47 392.28L369.55 392.70L369.64 393.43L369.72 396.18L369.81 394.76L369.89 393.87L369.97 393.22L370.06 394.87L370.14 393.87L370.22 394.12L370.31 394.18L370.39 394.08L370.47 393.49L370.55 394.68L370.64 394.55L370.72 395.53L370.80 395.01L370.88 395.61L370.97 394.24L371.05 392.37L371.13 392.76L371.21 395.76L371.29 394.54L371.37 395.09L371.45 397.40L371.53 397.98L371.61 396.28L371.69 395.77L371.78 397.30L371.86 396.96L371.94 396.93L372.02 397.13L372.09 397.59L372.17 396.44L372.25 395.48L372.33 396.01L372.41 397.49L372.49 396.72L372.57 396.58L372.65 398.96L372.73 395.68L372.81 397.74L372.88 398.53L372.96 394.14L373.04 398.40L373.12 397.67L373.20 398.25L373.27 396.35L373.35 397.92L373.43 399.39L373.51 400.28L373.58 398.51L373.66 395.70L373.74 399.31L373.81 396.73L373.89 399.28L373.97 400.13L374.04 401.16L374.12 398.78L374.19 398.38L374.27 398.92L374.34 401.24L374.42 399.70L374.50 398.72L374.57 399.81L374.65 398.78L374.72 396.94L374.80 401.06L374.87 396.61L374.95 400.95L375.02 399.93L375.09 400.04L375.17 399.05L375.24 400.51L375.32 400.17L375.39 400.43L375.46 399.91L375.54 400.03L375.61 400.68L375.68 399.78L375.76 399.23L375.83 401.71L375.90 401.74L375.98 401.89L376.05 402.07L376.12 402.12L376.19 401.45L376.27 400.78L376.34 402.48L376.41 401.38L376.48 402.42L376.56 399.20L376.63 401.91L376.70 401.49L376.77 403.48L376.84 403.47L376.91 402.41L376.98 403.58L377.06 402.93L377.13 401.69L377.20 403.89L377.27 404.12L377.34 403.15L377.41 403.73L377.48 402.87L377.55 403.83L377.62 404.94L377.69 406.21L377.76 403.65L377.83 404.91L377.90 404.14L377.97 406.33L378.04 405.31L378.11 404.24L378.18 403.62L378.25 403.71L378.31 403.59L378.38 405.12L378.45 404.18L378.52 404.97L378.59 405.73L378.66 406.08L378.73 406.55L378.79 404.72L378.86 405.90L378.93 406.85L379.00 406.33L379.07 404.27L379.13 407.94L379.20 408.02L379.27 405.13L379.34 408.34L379.40 405.43L379.47 407.67L379.54 406.75L379.61 405.90L379.67 406.02L379.74 406.72L379.81 407.71L379.87 408.11L379.94 408.21L380.01 406.39L380.07 407.84L380.14 407.06L380.20 410.99L380.27 408.96L380.34 408.38L380.40 409.25L380.47 406.68L380.53 410.31L380.60 408.66L380.66 408.40L380.73 410.37L380.79 408.69L380.86 409.29L380.92 406.77L380.99 408.44L381.05 410.18L381.12 409.23L381.18 409.97L381.25 411.03L381.31 409.97L381.38 410.28L381.44 409.25L381.50 412.58L381.57 412.66L381.63 412.17L381.70 410.79L381.76 410.48L381.82 411.90L381.89 411.64L381.95 412.00L382.01 413.90L382.08 413.20L382.14 411.50L382.20 411.71L382.27 411.50L382.33 412.15L382.39 415.67L382.45 412.86L382.52 412.93L382.58 414.86L382.64 411.62L382.70 413.89L382.77 412.88L382.83 413.20L382.89 413.53L382.95 412.84L383.02 414.60L383.08 413.61L383.14 414.27L383.20 416.16L383.26 415.71L383.32 416.43L383.38 417.19L383.45 417.11L383.51 415.13L383.57 417.26L383.63 414.91L383.69 416.34L383.75 416.50L383.81 417.67L383.87 416.14L383.93 417.62L383.99 416.16L384.05 416.27L384.11 418.90L384.17 416.79L384.23 419.57L384.30 416.75L384.36 419.93L384.42 418.99L384.47 416.72L384.53 417.98L384.59 417.65L384.65 421.04L384.71 417.88L384.77 419.69L384.83 417.29L384.89 419.10L384.95 419.41L385.01 421.13L385.07 420.56L385.13 419.82L385.19 418.54L385.25 418.80L385.30 420.53L385.36 421.61L385.42 421.85L385.48 419.01L385.54 420.60L385.60 422.16L385.65 419.68L385.71 420.83L385.77 420.77L385.83 420.83L385.89 421.52L385.94 422.56L386.00 423.87L386.06 423.73L386.12 423.43L386.18 422.18L386.23 423.62L386.29 422.21L386.35 422.28L386.40 421.83L386.46 421.96L386.52 426.43L386.58 422.23L386.63 423.81L386.69 424.04L386.75 425.00L386.80 424.26L386.86 424.58L386.92 425.54L386.97 426.91L387.03 423.85L387.09 424.82L387.14 426.56L387.20 426.20L387.25 425.12L387.31 426.61L387.37 425.93L387.42 425.37L387.48 425.73L387.53 426.91L387.59 427.82L387.65 427.49L387.70 426.54L387.76 427.65L387.81 426.01L387.87 426.04L387.92 426.52L387.98 427.46L388.03 429.55L388.09 426.86L388.14 427.96L388.20 429.55L388.25 429.95L388.31 429.88L388.36 429.29L388.42 431.05L388.47 428.65L388.53 430.35L388.58 429.62L388.63 432.04L388.69 427.63L388.74 429.74L388.80 431.03L388.85 432.29L388.91 429.83L388.96 431.90L389.01 432.11L389.07 432.77L389.12 433.30L389.17 432.34L389.23 432.43L389.28 433.06L389.33 433.93L389.39 431.57L389.44 431.66L389.49 434.27L389.55 432.36L389.60 433.77L389.65 434.08L389.71 432.25L389.76 432.55L389.81 435.03L389.87 434.12L389.92 435.61L389.97 436.81L390.02 434.55L390.08 435.17L390.13 435.10L390.18 433.84L390.23 436.49L390.29 435.94L390.34 436.47L390.39 438.69L390.44 437.23L390.49 438.77L390.55 437.39L390.60 438.67L390.65 438.96L390.70 436.68L390.75 438.67L390.81 438.75L390.86 438.37L390.91 440.95L390.96 439.98L391.01 440.04L391.06 439.12L391.11 439.50L391.17 440.54L391.22 438.45L391.27 440.87L391.32 441.33L391.37 440.41L391.42 441.68L391.47 440.03L391.52 441.13L391.57 442.32L391.62 439.69L391.68 442.46L391.73 442.33L391.78 442.21L391.83 442.41L391.88 442.56L391.93 444.40L391.98 443.33L392.03 445.51L392.08 444.06L392.13 444.16L392.18 443.76L392.23 445.24L392.28 444.45L392.33 445.35L392.38 445.09L392.43 446.25L392.48 444.69L392.53 444.97L392.58 447.55L392.63 446.54L392.68 446.87L392.73 448.61L392.78 448.16L392.82 447.45L392.87 448.58L392.92 447.54L392.97 447.23L393.02 448.73L393.07 447.80L393.12 447.30L393.17 449.42L393.22 447.96L393.27 448.18L393.31 448.25L393.36 449.72L393.41 449.71L393.46 450.95L393.51 449.62L393.56 449.98L393.61 450.56L393.65 451.15L393.70 452.00L393.75 453.73L393.80 452.39L393.85 453.72L393.90 452.48L393.94 453.36L393.99 450.69L394.04 453.65L394.09 454.18L394.14 451.91L394.18 455.32L394.23 452.97L394.28 453.17L394.33 454.64L394.37 456.03L394.42 455.60L394.47 455.17L394.52 454.76L394.56 455.29L394.61 455.65L394.66 456.70L394.71 455.57L394.75 457.76L394.80 457.70L394.85 457.17L394.89 456.88L394.94 457.42L394.99 457.63L395.04 458.81L395.08 457.72L395.13 460.79L395.18 459.75L395.22 460.62L395.27 460.67L395.32 459.55L395.36 459.47L395.41 461.38L395.45 460.75L395.50 459.29L395.55 461.00L395.59 460.22L395.64 460.85L395.69 461.02L395.73 462.63L395.78 462.29L395.82 460.83L395.87 463.86L395.92 464.46L395.96 462.59L396.01 464.52L396.05 464.22L396.10 464.00L396.15 465.18L396.19 465.31L396.24 466.45L396.28 465.79L396.33 467.14L396.37 465.87L396.42 466.42L396.46 465.84L396.51 467.32L396.55 466.43L396.60 466.63L396.64 466.85L396.69 467.57L396.73 468.14L396.78 468.59L396.82 469.54L396.87 469.47L396.91 469.75L396.96 468.16L397.00 471.40L397.05 470.84L397.09 470.67L397.14 472.04L397.18 470.86L397.23 472.37L397.27 471.79L397.32 472.38L397.36 474.72L397.41 472.49L397.45 474.46L397.49 473.35L397.54 472.65L397.58 473.48L397.63 474.56L397.67 474.82L397.71 475.02L397.76 475.69L397.80 476.55L397.85 476.12L397.89 476.50L397.93 474.95L397.98 476.63L398.02 475.42L398.07 477.74L398.11 477.72L398.15 478.33L398.20 479.41L398.24 479.84L398.28 479.57L398.33 478.80L398.37 480.91L398.41 481.49L398.46 480.69L398.50 481.53" fill="none" stroke="#ff0d14" stroke-width="2.10" stroke-linejoin="round" stroke-dasharray="13 4.4 2.2 4.4 2.2 4.4 2.2 4.4"/>
</g>
<g clip-path="url(#c2)">
<path d="M498.30 498.07L528.27 497.88L545.81 492.74L558.25 492.45L567.89 489.93L575.78 489.69L582.44 488.95L588.22 488.25L593.31 487.40L597.87 487.04L601.99 486.14L605.75 485.74L609.21 485.11L612.42 484.47L615.40 483.79L618.19 483.27L620.81 482.90L623.28 482.34L625.62 481.78L627.84 481.18L629.95 480.56L631.96 479.90L633.88 479.17L635.72 478.44L637.49 477.69L639.18 476.82L640.82 476.03L642.39 475.04L643.91 474.12L645.37 473.15L646.79 472.25L648.16 471.48L649.49 470.74L650.78 469.86L652.04 468.85L653.26 468.30L654.44 467.38L655.59 466.62L656.72 465.48L657.81 464.59L658.88 463.79L659.92 462.71L660.94 461.80L661.93 460.87L662.90 459.92L663.86 459.21L664.79 458.26L665.70 457.00L666.59 456.23L667.46 455.32L668.32 454.49L669.16 453.67L669.98 452.93L670.79 452.07L671.58 451.29L672.36 450.39L673.13 449.31L673.88 448.39L674.62 447.58L675.34 446.64L676.06 445.59L676.76 444.68L677.45 443.52L678.14 442.61L678.81 441.67L679.47 440.85L680.12 439.95L680.76 438.81L681.39 437.62L682.01 436.53L682.62 435.50L683.23 434.51L683.82 433.78L684.41 432.93L684.99 431.68L685.57 430.79L686.13 429.77L686.69 428.84L687.24 427.92L687.78 427.11L688.32 426.35L688.85 425.48L689.38 424.50L689.89 423.60L690.41 422.84L690.91 421.83L691.41 420.77L691.91 419.72L692.39 418.68L692.88 417.86L693.36 416.74L693.83 415.81L694.30 414.94L694.76 414.03L695.22 413.15L695.67 412.31L696.12 411.37L696.56 410.41L697.00 409.49L697.43 408.54L697.86 407.62L698.29 406.74L698.71 405.86L699.13 404.90L699.54 404.08L699.95 403.20L700.36 402.22L700.76 401.29L701.16 400.34L701.55 399.43L701.95 398.62L702.33 397.75L702.72 396.86L703.10 396.00L703.48 395.14L703.85 394.25L704.22 393.32L704.59 392.49L704.96 391.55L705.32 390.69L705.68 389.78L706.03 388.87L706.38 387.92L706.74 387.02L707.08 386.12L707.43 385.20L707.77 384.47L708.11 383.71L708.44 382.84L708.78 382.15L709.11 381.34L709.44 380.54L709.76 379.82L710.09 379.09L710.41 378.27L710.73 377.47L711.05 376.73L711.36 376.00L711.67 375.27L711.98 374.49L712.29 373.80L712.60 373.06L712.90 372.38L713.20 371.60L713.50 370.86L713.80 370.07L714.09 369.43L714.39 368.79L714.68 368.10L714.97 367.33L715.25 366.66L715.54 365.91L715.82 365.21L716.10 364.51L716.38 363.79L716.66 363.15L716.94 362.49L717.21 361.86L717.49 361.18L717.76 360.45L718.03 359.80L718.29 359.12L718.56 358.46L718.82 357.81L719.09 357.17L719.35 356.48L719.61 355.85L719.87 355.23L720.12 354.66L720.38 354.00L720.63 353.36L720.88 352.74L721.13 352.13L721.38 351.48L721.63 350.88L721.88 350.30L722.12 349.69L722.37 349.11L722.61 348.53L722.85 347.96L723.09 347.39L723.33 346.87L723.56 346.32L723.80 345.78L724.03 345.26L724.27 344.72L724.50 344.16L724.73 343.64L724.96 343.04L725.19 342.51L725.41 341.97L725.64 341.47L725.87 340.97L726.09 340.41L726.31 339.88L726.53 339.38L726.75 338.90L726.97 338.36L727.19 337.89L727.41 337.41L727.62 336.92L727.84 336.43L728.05 335.95L728.26 335.48L728.47 334.96L728.68 334.49L728.89 334.02L729.10 333.59L729.31 333.11L729.52 332.70L729.72 332.27L729.93 331.77L730.13 331.35L730.33 330.91L730.53 330.51L730.73 330.10L730.93 329.66L731.13 329.25L731.33 328.83L731.53 328.43L731.72 328.05L731.92 327.65L732.11 327.23L732.31 326.85L732.50 326.45L732.69 326.04L732.88 325.68L733.07 325.28L733.26 324.94L733.45 324.55L733.64 324.19L733.82 323.84L734.01 323.49L734.19 323.14L734.38 322.81L734.56 322.44L734.75 322.08L734.93 321.75L735.11 321.42L735.29 321.09L735.47 320.76L735.65 320.45L735.83 320.12L736.00 319.79L736.18 319.49L736.36 319.18L736.53 318.88L736.71 318.58L736.88 318.27L737.05 317.96L737.23 317.68L737.40 317.38L737.57 317.10L737.74 316.84L737.91 316.57L738.08 316.29L738.25 316.03L738.42 315.77L738.58 315.49L738.75 315.24L738.92 314.98L739.08 314.73L739.25 314.50L739.41 314.25L739.57 314.00L739.74 313.75L739.90 313.52L740.06 313.29L740.22 313.04L740.38 312.82L740.54 312.59L740.70 312.39L740.86 312.18L741.02 311.97L741.18 311.76L741.33 311.53L741.49 311.33L741.65 311.13L741.80 310.93L741.96 310.73L742.11 310.53L742.26 310.32L742.42 310.13L742.57 309.93L742.72 309.75L742.87 309.57L743.02 309.39L743.17 309.21L743.32 309.04L743.47 308.87L743.62 308.70L743.77 308.53L743.92 308.37L744.07 308.22L744.21 308.06L744.36 307.91L744.50 307.76L744.65 307.61L744.79 307.47L744.94 307.32L745.08 307.18L745.23 307.04L745.37 306.90L745.51 306.76L745.65 306.63L745.79 306.50L745.94 306.37L746.08 306.24L746.22 306.11L746.36 305.98L746.50 305.88L746.63 305.77L746.77 305.65L746.91 305.54L747.05 305.42L747.19 305.31L747.32 305.21L747.46 305.11L747.59 305.00L747.73 304.91L747.86 304.80L748.00 304.70L748.13 304.61L748.27 304.52L748.40 304.43L748.53 304.34L748.67 304.25L748.80 304.17L748.93 304.09L749.06 304.01L749.19 303.93L749.32 303.86L749.45 303.79L749.58 303.71L749.71 303.64L749.84 303.56L749.97 303.50L750.10 303.42L750.22 303.36L750.35 303.29L750.48 303.23L750.60 303.17L750.73 303.11L750.86 303.06L750.98 303.00L751.11 302.95L751.23 302.90L751.36 302.85L751.48 302.80L751.60 302.75L751.73 302.71L751.85 302.66L751.97 302.62L752.10 302.58L752.22 302.54L752.34 302.50L752.46 302.46L752.58 302.42L752.70 302.38L752.82 302.35L752.94 302.31L753.06 302.28L753.18 302.25L753.30 302.22L753.42 302.19L753.54 302.17L753.66 302.14L753.77 302.12L753.89 302.09L754.01 302.07L754.12 302.04L754.24 302.02L754.36 302.00L754.47 301.98L754.59 301.96L754.70 301.94L754.82 301.92L754.93 301.90L755.05 301.89L755.16 301.87L755.27 301.86L755.39 301.84L755.50 301.83L755.61 301.82L755.73 301.81L755.84 301.80L755.95 301.79L756.06 301.78L756.17 301.77L756.28 301.76L756.39 301.75L756.50 301.75L756.62 301.74L756.72 301.73L756.83 301.73L756.94 301.72L757.05 301.72L757.16 301.71L757.27 301.71L757.38 301.71L757.49 301.70L757.59 301.70L757.70 301.70L757.81 301.70L757.92 301.70L758.02 301.70L758.13 301.69L758.23 301.69L758.34 301.69L758.45 301.69L758.55 301.69L758.66 301.70L758.76 301.70L758.87 301.70L758.97 301.70L759.07 301.70L759.18 301.70L759.28 301.71L759.39 301.71L759.49 301.71L759.59 301.71L759.69 301.72L759.80 301.72L759.90 301.72L760.00 301.72L760.10 301.73L760.20 301.73L760.30 301.73L760.40 301.74L760.51 301.74L760.61 301.75L760.71 301.75L760.81 301.75L760.91 301.76L761.01 301.76L761.10 301.76L761.20 301.77L761.30 301.77L761.40 301.77L761.50 301.78L761.60 301.78L761.70 301.78L761.79 301.79L761.89 301.79L761.99 301.79L762.09 301.80L762.18 301.80L762.28 301.80L762.38 301.80L762.47 301.81L762.57 301.81L762.66 301.81L762.76 301.81L762.85 301.81L762.95 301.82L763.04 301.82L763.14 301.82L763.23 301.82L763.33 301.82L763.42 301.82L763.52 301.82L763.61 301.82L763.70 301.82L763.80 301.82L763.89 301.82L763.98 301.82L764.07 301.82L764.17 301.82L764.26 301.82L764.35 301.82L764.44 301.82L764.54 301.82L764.63 301.81L764.72 301.81L764.81 301.81L764.90 301.81L764.99 301.80L765.08 301.80L765.17 301.80L765.26 301.79L765.35 301.79L765.44 301.78L765.53 301.78L765.62 301.77L765.71 301.77L765.80 301.76L765.89 301.76L765.98 301.75L766.07 301.74L766.15 301.74L766.24 301.73L766.33 301.72L766.42 301.71L766.51 301.71L766.59 301.70L766.68 301.69L766.77 301.68L766.85 301.67L766.94 301.66L767.03 301.65L767.11 301.64L767.20 301.63L767.29 301.62L767.37 301.61L767.46 301.60L767.54 301.59L767.63 301.58L767.71 301.56L767.80 301.55L767.88 301.54L767.97 301.53L768.05 301.51L768.14 301.50L768.22 301.49L768.31 301.48L768.39 301.46L768.47 301.45L768.56 301.43L768.64 301.42L768.72 301.40L768.81 301.39L768.89 301.37L768.97 301.36L769.05 301.34L769.14 301.32L769.22 301.31L769.30 301.29L769.38 301.27L769.47 301.26L769.55 301.24L769.63 301.22L769.71 301.20L769.79 301.18L769.87 301.16L769.95 301.15L770.03 301.13L770.11 301.11L770.19 301.09L770.28 301.07L770.36 301.05L770.44 301.03L770.52 301.01L770.59 300.99L770.67 300.97L770.75 300.95L770.83 300.93L770.91 300.91L770.99 300.89L771.07 300.87L771.15 300.85L771.23 300.83L771.31 300.80L771.38 300.78L771.46 300.76L771.54 300.74L771.62 300.72L771.70 300.69L771.77 300.67L771.85 300.65L771.93 300.62L772.01 300.60L772.08 300.58L772.16 300.56L772.24 300.53L772.31 300.51L772.39 300.48L772.47 300.46L772.54 300.44L772.62 300.42L772.69 300.39L772.77 300.37L772.84 300.34L772.92 300.32L773.00 300.30L773.07 300.27L773.15 300.25L773.22 300.22L773.30 300.20L773.37 300.17L773.45 300.15L773.52 300.12L773.59 300.10L773.67 300.07L773.74 300.05L773.82 300.02L773.89 300.00L773.96 299.97L774.04 299.95L774.11 299.92L774.18 299.90L774.26 299.87L774.33 299.84L774.40 299.82L774.48 299.80L774.55 299.77L774.62 299.75L774.69 299.72L774.77 299.70L774.84 299.67L774.91 299.65L774.98 299.62L775.06 299.60L775.13 299.57L775.20 299.55L775.27 299.52L775.34 299.50L775.41 299.47L775.48 299.45L775.56 299.43L775.63 299.40L775.70 299.38L775.77 299.35L775.84 299.33L775.91 299.30L775.98 299.28L776.05 299.26L776.12 299.23L776.19 299.21L776.26 299.19L776.33 299.17L776.40 299.14L776.47 299.12L776.54 299.10L776.61 299.07L776.68 299.05L776.75 299.03L776.81 299.00L776.88 298.98L776.95 298.96L777.02 298.94L777.09 298.91L777.16 298.89L777.23 298.87L777.29 298.85L777.36 298.83L777.43 298.81L777.50 298.79L777.57 298.76L777.63 298.74L777.70 298.72L777.77 298.70L777.84 298.68L777.90 298.66L777.97 298.64L778.04 298.62L778.11 298.60L778.17 298.58L778.24 298.56L778.31 298.54L778.37 298.52L778.44 298.50L778.51 298.48L778.57 298.47L778.64 298.45L778.70 298.43L778.77 298.41L778.84 298.39L778.90 298.38L778.97 298.36L779.03 298.34L779.10 298.32L779.16 298.31L779.23 298.29L779.29 298.27L779.36 298.26L779.42 298.24L779.49 298.22L779.55 298.21L779.62 298.19L779.68 298.18L779.75 298.16L779.81 298.15L779.88 298.13L779.94 298.12L780.00 298.10L780.07 298.09L780.13 298.07L780.20 298.06L780.26 298.05L780.32 298.03L780.39 298.02L780.45 298.01L780.51 297.99L780.58 297.98L780.64 297.97L780.70 297.96L780.77 297.94L780.83 297.93L780.89 297.92L780.95 297.91L781.02 297.90L781.08 297.89L781.14 297.88L781.20 297.87L781.27 297.86L781.33 297.85L781.39 297.84L781.45 297.82L781.52 297.82L781.58 297.81L781.64 297.80L781.70 297.79L781.76 297.78L781.82 297.77L781.88 297.76L781.95 297.75L782.01 297.75L782.07 297.74L782.13 297.73L782.19 297.72L782.25 297.71L782.31 297.71L782.37 297.70L782.43 297.69L782.49 297.69L782.55 297.68L782.61 297.67L782.67 297.67L782.73 297.66L782.80 297.66L782.86 297.65L782.92 297.64L782.97 297.64L783.03 297.63L783.09 297.63L783.15 297.62L783.21 297.62L783.27 297.61L783.33 297.61L783.39 297.61L783.45 297.60L783.51 297.60L783.57 297.59L783.63 297.59L783.69 297.59L783.75 297.58L783.80 297.58L783.86 297.58L783.92 297.57L783.98 297.57L784.04 297.57L784.10 297.56L784.15 297.56L784.21 297.56L784.27 297.56L784.33 297.55L784.39 297.55L784.44 297.55L784.50 297.55L784.56 297.55L784.62 297.54L784.68 297.54L784.73 297.54L784.79 297.54L784.85 297.54L784.90 297.54L784.96 297.53L785.02 297.53L785.08 297.53L785.13 297.53L785.19 297.53L785.25 297.53L785.30 297.53L785.36 297.53L785.42 297.53L785.47 297.53L785.53 297.53L785.59 297.53L785.64 297.53L785.70 297.53L785.75 297.53L785.81 297.53L785.87 297.53L785.92 297.53L785.98 297.53L786.03 297.53L786.09 297.53L786.15 297.53L786.20 297.53L786.26 297.53L786.31 297.53L786.37 297.53L786.42 297.53L786.48 297.53L786.53 297.53L786.59 297.53L786.64 297.53L786.70 297.53L786.75 297.53L786.81 297.54L786.86 297.54L786.92 297.54L786.97 297.54L787.03 297.54L787.08 297.54L787.13 297.54L787.19 297.54L787.24 297.54L787.30 297.54L787.35 297.54L787.41 297.55L787.46 297.55L787.51 297.55L787.57 297.55L787.62 297.55L787.67 297.55L787.73 297.55L787.78 297.55L787.83 297.55L787.89 297.55L787.94 297.55L787.99 297.55L788.05 297.56L788.10 297.56L788.15 297.56L788.21 297.56L788.26 297.56L788.31 297.56L788.37 297.56L788.42 297.56L788.47 297.56L788.52 297.56L788.58 297.56L788.63 297.56L788.68 297.56L788.73 297.56L788.79 297.56L788.84 297.56L788.89 297.56L788.94 297.57L788.99 297.57L789.05 297.57L789.10 297.57L789.15 297.57L789.20 297.57L789.25 297.57L789.31 297.57L789.36 297.57L789.41 297.57L789.46 297.57L789.51 297.57L789.56 297.57L789.61 297.56L789.67 297.56L789.72 297.56L789.77 297.56L789.82 297.56L789.87 297.56L789.92 297.56L789.97 297.56L790.02 297.56L790.07 297.56L790.12 297.56L790.18 297.56L790.23 297.56L790.28 297.55L790.33 297.55L790.38 297.55L790.43 297.55L790.48 297.55L790.53 297.55L790.58 297.55L790.63 297.55L790.68 297.54L790.73 297.54L790.78 297.54L790.83 297.54L790.88 297.54L790.93 297.53L790.98 297.53L791.03 297.53L791.08 297.53L791.13 297.53L791.18 297.52L791.23 297.52L791.28 297.52L791.32 297.52L791.37 297.51L791.42 297.51L791.47 297.51L791.52 297.51L791.57 297.50L791.62 297.50L791.67 297.50L791.72 297.49L791.77 297.49L791.81 297.49L791.86 297.48L791.91 297.48L791.96 297.48L792.01 297.47L792.06 297.47L792.11 297.47L792.15 297.46L792.20 297.46L792.25 297.46L792.30 297.45L792.35 297.45L792.40 297.45L792.44 297.44L792.49 297.44L792.54 297.43L792.59 297.43L792.64 297.42L792.68 297.42L792.73 297.42L792.78 297.41L792.83 297.41L792.87 297.40L792.92 297.40L792.97 297.39L793.02 297.39L793.06 297.38L793.11 297.38L793.16 297.37L793.21 297.37L793.25 297.36L793.30 297.36L793.35 297.35L793.39 297.35L793.44 297.34L793.49 297.34L793.54 297.33L793.58 297.33L793.63 297.32L793.68 297.32L793.72 297.31L793.77 297.31L793.82 297.30L793.86 297.30L793.91 297.29L793.95 297.28L794.00 297.28L794.05 297.27L794.09 297.27L794.14 297.26L794.19 297.26L794.23 297.25L794.28 297.24L794.32 297.24L794.37 297.23L794.42 297.23L794.46 297.22L794.51 297.21L794.55 297.21L794.60 297.20L794.65 297.20L794.69 297.19L794.74 297.18L794.78 297.18L794.83 297.17L794.87 297.17L794.92 297.16L794.96 297.15L795.01 297.15L795.05 297.14L795.10 297.13L795.14 297.13L795.19 297.12L795.23 297.12L795.28 297.11L795.32 297.10L795.37 297.10L795.41 297.09L795.46 297.08L795.50 297.08L795.55 297.07L795.59 297.07L795.64 297.06L795.68 297.05L795.73 297.05L795.77 297.04L795.82 297.03L795.86 297.03L795.91 297.02L795.95 297.02L795.99 297.01L796.04 297.00L796.08 297.00L796.13 296.99L796.17 296.98L796.21 296.98L796.26 296.97L796.30 296.97L796.35 296.96L796.39 296.95L796.43 296.95L796.48 296.94L796.52 296.93L796.57 296.93L796.61 296.92L796.65 296.92L796.70 296.91L796.74 296.91L796.78 296.90L796.83 296.89L796.87 296.89L796.91 296.88L796.96 296.87L797.00 296.87" fill="none" stroke="#0d0dff" stroke-width="2.10" stroke-linejoin="round" stroke-dasharray="10.2 7.6"/>
<path d="M498.30 508.78L528.27 508.57L545.81 505.43L558.25 505.28L567.89 503.96L575.78 503.88L582.44 503.49L588.22 503.11L593.31 502.65L597.87 502.46L601.99 501.95L605.75 501.73L609.21 501.36L612.42 500.99L615.40 500.60L618.19 500.31L620.81 500.10L623.28 499.77L625.62 499.44L627.84 499.10L629.95 498.74L631.96 498.35L633.88 497.93L635.72 497.50L637.49 497.05L639.18 496.54L640.82 496.06L642.39 495.47L643.91 494.92L645.37 494.34L646.79 493.79L648.16 493.32L649.49 492.87L650.78 492.33L652.04 491.72L653.26 491.38L654.44 490.82L655.59 490.36L656.72 489.66L657.81 489.11L658.88 488.62L659.92 487.96L660.94 487.40L661.93 486.82L662.90 486.24L663.86 485.80L664.79 485.21L665.70 484.44L666.59 483.96L667.46 483.39L668.32 482.88L669.16 482.37L669.98 481.91L670.79 481.37L671.58 480.89L672.36 480.33L673.13 479.65L673.88 479.08L674.62 478.57L675.34 478.00L676.06 477.37L676.76 476.83L677.45 476.13L678.14 475.58L678.81 475.01L679.47 474.51L680.12 473.97L680.76 473.27L681.39 472.55L682.01 471.89L682.62 471.26L683.23 470.65L683.82 470.21L684.41 469.69L684.99 468.92L685.57 468.38L686.13 467.76L686.69 467.19L687.24 466.63L687.78 466.13L688.32 465.67L688.85 465.13L689.38 464.53L689.89 463.98L690.41 463.51L690.91 462.90L691.41 462.24L691.91 461.60L692.39 460.95L692.88 460.45L693.36 459.76L693.83 459.19L694.30 458.66L694.76 458.10L695.22 457.55L695.67 457.04L696.12 456.46L696.56 455.86L697.00 455.29L697.43 454.70L697.86 454.13L698.29 453.59L698.71 453.04L699.13 452.44L699.54 451.94L699.95 451.39L700.36 450.77L700.76 450.18L701.16 449.58L701.55 449.01L701.95 448.50L702.33 447.96L702.72 447.39L703.10 446.84L703.48 446.29L703.85 445.72L704.22 445.12L704.59 444.59L704.96 443.98L705.32 443.43L705.68 442.83L706.03 442.23L706.38 441.61L706.74 441.02L707.08 440.43L707.43 439.81L707.77 439.33L708.11 438.83L708.44 438.25L708.78 437.79L709.11 437.24L709.44 436.70L709.76 436.22L710.09 435.72L710.41 435.16L710.73 434.61L711.05 434.10L711.36 433.60L711.67 433.09L711.98 432.55L712.29 432.06L712.60 431.54L712.90 431.05L713.20 430.50L713.50 429.97L713.80 429.40L714.09 428.94L714.39 428.48L714.68 427.97L714.97 427.40L715.25 426.92L715.54 426.35L715.82 425.83L716.10 425.30L716.38 424.76L716.66 424.27L716.94 423.77L717.21 423.28L717.49 422.76L717.76 422.19L718.03 421.68L718.29 421.15L718.56 420.62L718.82 420.10L719.09 419.58L719.35 419.03L719.61 418.51L719.87 418.01L720.12 417.53L720.38 416.99L720.63 416.45L720.88 415.93L721.13 415.41L721.38 414.86L721.63 414.34L721.88 413.84L722.12 413.31L722.37 412.80L722.61 412.29L722.85 411.78L723.09 411.27L723.33 410.80L723.56 410.31L723.80 409.81L724.03 409.33L724.27 408.83L724.50 408.31L724.73 407.82L724.96 407.26L725.19 406.75L725.41 406.24L725.64 405.75L725.87 405.27L726.09 404.72L726.31 404.20L726.53 403.70L726.75 403.23L726.97 402.69L727.19 402.21L727.41 401.72L727.62 401.22L727.84 400.71L728.05 400.21L728.26 399.72L728.47 399.18L728.68 398.68L728.89 398.18L729.10 397.71L729.31 397.21L729.52 396.75L729.72 396.28L729.93 395.74L730.13 395.26L730.33 394.78L730.53 394.32L730.73 393.86L730.93 393.35L731.13 392.88L731.33 392.40L731.53 391.93L731.72 391.48L731.92 391.01L732.11 390.52L732.31 390.06L732.50 389.58L732.69 389.08L732.88 388.64L733.07 388.15L733.26 387.72L733.45 387.25L733.64 386.79L733.82 386.35L734.01 385.89L734.19 385.44L734.38 385.02L734.56 384.54L734.75 384.06L734.93 383.63L735.11 383.18L735.29 382.74L735.47 382.30L735.65 381.87L735.83 381.41L736.00 380.96L736.18 380.53L736.36 380.10L736.53 379.67L736.71 379.24L736.88 378.78L737.05 378.34L737.23 377.92L737.40 377.48L737.57 377.07L737.74 376.66L737.91 376.25L738.08 375.82L738.25 375.42L738.42 375.01L738.58 374.58L738.75 374.16L738.92 373.76L739.08 373.35L739.25 372.96L739.41 372.55L739.57 372.13L739.74 371.72L739.90 371.32L740.06 370.92L740.22 370.50L740.38 370.11L740.54 369.70L740.70 369.34L740.86 368.95L741.02 368.56L741.18 368.19L741.33 367.76L741.49 367.37L741.65 367.00L741.80 366.60L741.96 366.20L742.11 365.81L742.26 365.40L742.42 365.01L742.57 364.62L742.72 364.24L742.87 363.87L743.02 363.48L743.17 363.10L743.32 362.73L743.47 362.36L743.62 361.98L743.77 361.59L743.92 361.23L744.07 360.88L744.21 360.50L744.36 360.13L744.50 359.77L744.65 359.41L744.79 359.06L744.94 358.69L745.08 358.33L745.23 357.98L745.37 357.62L745.51 357.25L745.65 356.89L745.79 356.52L745.94 356.18L746.08 355.81L746.22 355.45L746.36 355.08L746.50 354.76L746.63 354.43L746.77 354.09L746.91 353.74L747.05 353.37L747.19 353.03L747.32 352.70L747.46 352.35L747.59 352.01L747.73 351.68L747.86 351.33L748.00 350.97L748.13 350.64L748.27 350.32L748.40 349.98L748.53 349.64L748.67 349.32L748.80 349.00L748.93 348.67L749.06 348.34L749.19 348.02L749.32 347.73L749.45 347.40L749.58 347.06L749.71 346.73L749.84 346.41L749.97 346.09L750.10 345.75L750.22 345.44L750.35 345.11L750.48 344.78L750.60 344.47L750.73 344.16L750.86 343.87L750.98 343.56L751.11 343.27L751.23 342.96L751.36 342.67L751.48 342.37L751.60 342.08L751.73 341.78L751.85 341.48L751.97 341.19L752.10 340.91L752.22 340.61L752.34 340.33L752.46 340.03L752.58 339.72L752.70 339.43L752.82 339.14L752.94 338.86L753.06 338.58L753.18 338.32L753.30 338.05L753.42 337.76L753.54 337.49L753.66 337.22L753.77 336.96L753.89 336.69L754.01 336.42L754.12 336.14L754.24 335.88L754.36 335.59L754.47 335.32L754.59 335.04L754.70 334.77L754.82 334.51L754.93 334.25L755.05 333.97L755.16 333.71L755.27 333.46L755.39 333.20L755.50 332.94L755.61 332.70L755.73 332.45L755.84 332.21L755.95 331.98L756.06 331.73L756.17 331.46L756.28 331.23L756.39 330.99L756.50 330.75L756.62 330.50L756.72 330.26L756.83 330.02L756.94 329.78L757.05 329.56L757.16 329.31L757.27 329.06L757.38 328.83L757.49 328.60L757.59 328.37L757.70 328.14L757.81 327.92L757.92 327.67L758.02 327.45L758.13 327.21L758.23 326.99L758.34 326.76L758.45 326.53L758.55 326.31L758.66 326.07L758.76 325.86L758.87 325.64L758.97 325.41L759.07 325.19L759.18 324.98L759.28 324.77L759.39 324.56L759.49 324.35L759.59 324.14L759.69 323.93L759.80 323.73L759.90 323.53L760.00 323.33L760.10 323.13L760.20 322.92L760.30 322.71L760.40 322.51L760.51 322.30L760.61 322.10L760.71 321.91L760.81 321.71L760.91 321.53L761.01 321.33L761.10 321.15L761.20 320.96L761.30 320.76L761.40 320.57L761.50 320.38L761.60 320.18L761.70 319.99L761.79 319.80L761.89 319.62L761.99 319.44L762.09 319.26L762.18 319.09L762.28 318.90L762.38 318.73L762.47 318.55L762.57 318.37L762.66 318.19L762.76 318.02L762.85 317.84L762.95 317.66L763.04 317.48L763.14 317.31L763.23 317.13L763.33 316.97L763.42 316.79L763.52 316.63L763.61 316.46L763.70 316.29L763.80 316.12L763.89 315.95L763.98 315.79L764.07 315.62L764.17 315.47L764.26 315.30L764.35 315.15L764.44 314.99L764.54 314.83L764.63 314.68L764.72 314.53L764.81 314.37L764.90 314.22L764.99 314.06L765.08 313.90L765.17 313.74L765.26 313.59L765.35 313.45L765.44 313.30L765.53 313.16L765.62 313.01L765.71 312.86L765.80 312.72L765.89 312.57L765.98 312.43L766.07 312.29L766.15 312.15L766.24 312.01L766.33 311.86L766.42 311.72L766.51 311.59L766.59 311.45L766.68 311.32L766.77 311.18L766.85 311.04L766.94 310.91L767.03 310.78L767.11 310.66L767.20 310.53L767.29 310.40L767.37 310.27L767.46 310.14L767.54 310.00L767.63 309.87L767.71 309.74L767.80 309.62L767.88 309.50L767.97 309.37L768.05 309.25L768.14 309.13L768.22 309.02L768.31 308.90L768.39 308.79L768.47 308.67L768.56 308.55L768.64 308.44L768.72 308.32L768.81 308.21L768.89 308.10L768.97 307.98L769.05 307.87L769.14 307.76L769.22 307.65L769.30 307.55L769.38 307.44L769.47 307.33L769.55 307.22L769.63 307.11L769.71 307.00L769.79 306.90L769.87 306.79L769.95 306.69L770.03 306.60L770.11 306.50L770.19 306.40L770.28 306.30L770.36 306.21L770.44 306.11L770.52 306.02L770.59 305.92L770.67 305.83L770.75 305.73L770.83 305.64L770.91 305.54L770.99 305.45L771.07 305.36L771.15 305.27L771.23 305.18L771.31 305.09L771.38 305.00L771.46 304.91L771.54 304.82L771.62 304.73L771.70 304.65L771.77 304.56L771.85 304.47L771.93 304.39L772.01 304.31L772.08 304.23L772.16 304.14L772.24 304.06L772.31 303.98L772.39 303.90L772.47 303.82L772.54 303.75L772.62 303.67L772.69 303.59L772.77 303.51L772.84 303.44L772.92 303.37L773.00 303.29L773.07 303.22L773.15 303.14L773.22 303.06L773.30 302.99L773.37 302.91L773.45 302.84L773.52 302.77L773.59 302.70L773.67 302.63L773.74 302.56L773.82 302.49L773.89 302.42L773.96 302.35L774.04 302.28L774.11 302.22L774.18 302.15L774.26 302.08L774.33 302.02L774.40 301.95L774.48 301.89L774.55 301.83L774.62 301.77L774.69 301.70L774.77 301.64L774.84 301.58L774.91 301.52L774.98 301.46L775.06 301.40L775.13 301.34L775.20 301.28L775.27 301.22L775.34 301.17L775.41 301.11L775.48 301.05L775.56 301.00L775.63 300.94L775.70 300.89L775.77 300.83L775.84 300.78L775.91 300.73L775.98 300.67L776.05 300.62L776.12 300.57L776.19 300.52L776.26 300.47L776.33 300.42L776.40 300.37L776.47 300.33L776.54 300.28L776.61 300.23L776.68 300.18L776.75 300.13L776.81 300.09L776.88 300.04L776.95 299.99L777.02 299.95L777.09 299.90L777.16 299.86L777.23 299.82L777.29 299.77L777.36 299.73L777.43 299.69L777.50 299.64L777.57 299.60L777.63 299.56L777.70 299.52L777.77 299.48L777.84 299.44L777.90 299.40L777.97 299.36L778.04 299.32L778.11 299.28L778.17 299.24L778.24 299.21L778.31 299.17L778.37 299.13L778.44 299.10L778.51 299.06L778.57 299.02L778.64 298.99L778.70 298.96L778.77 298.92L778.84 298.89L778.90 298.86L778.97 298.82L779.03 298.79L779.10 298.76L779.16 298.72L779.23 298.69L779.29 298.66L779.36 298.63L779.42 298.60L779.49 298.57L779.55 298.54L779.62 298.51L779.68 298.48L779.75 298.45L779.81 298.42L779.88 298.39L779.94 298.36L780.00 298.34L780.07 298.31L780.13 298.29L780.20 298.26L780.26 298.23L780.32 298.21L780.39 298.18L780.45 298.16L780.51 298.13L780.58 298.11L780.64 298.09L780.70 298.06L780.77 298.04L780.83 298.02L780.89 297.99L780.95 297.97L781.02 297.95L781.08 297.93L781.14 297.91L781.20 297.89L781.27 297.87L781.33 297.84L781.39 297.82L781.45 297.80L781.52 297.78L781.58 297.76L781.64 297.75L781.70 297.73L781.76 297.71L781.82 297.69L781.88 297.68L781.95 297.66L782.01 297.64L782.07 297.62L782.13 297.61L782.19 297.59L782.25 297.58L782.31 297.56L782.37 297.54L782.43 297.53L782.49 297.51L782.55 297.50L782.61 297.48L782.67 297.47L782.73 297.46L782.80 297.44L782.86 297.43L782.92 297.42L782.97 297.40L783.03 297.39L783.09 297.38L783.15 297.36L783.21 297.35L783.27 297.34L783.33 297.33L783.39 297.32L783.45 297.31L783.51 297.29L783.57 297.28L783.63 297.27L783.69 297.26L783.75 297.25L783.80 297.24L783.86 297.23L783.92 297.22L783.98 297.21L784.04 297.20L784.10 297.19L784.15 297.18L784.21 297.17L784.27 297.17L784.33 297.16L784.39 297.15L784.44 297.14L784.50 297.13L784.56 297.13L784.62 297.12L784.68 297.11L784.73 297.10L784.79 297.10L784.85 297.09L784.90 297.08L784.96 297.08L785.02 297.07L785.08 297.06L785.13 297.06L785.19 297.05L785.25 297.05L785.30 297.04L785.36 297.03L785.42 297.03L785.47 297.02L785.53 297.02L785.59 297.01L785.64 297.01L785.70 297.00L785.75 297.00L785.81 297.00L785.87 296.99L785.92 296.99L785.98 296.98L786.03 296.98L786.09 296.98L786.15 296.97L786.20 296.97L786.26 296.97L786.31 296.96L786.37 296.96L786.42 296.96L786.48 296.95L786.53 296.95L786.59 296.95L786.64 296.94L786.70 296.94L786.75 296.94L786.81 296.94L786.86 296.94L786.92 296.93L786.97 296.93L787.03 296.93L787.08 296.93L787.13 296.93L787.19 296.92L787.24 296.92L787.30 296.92L787.35 296.92L787.41 296.92L787.46 296.92L787.51 296.92L787.57 296.92L787.62 296.92L787.67 296.91L787.73 296.91L787.78 296.91L787.83 296.91L787.89 296.91L787.94 296.91L787.99 296.91L788.05 296.91L788.10 296.91L788.15 296.91L788.21 296.91L788.26 296.91L788.31 296.91L788.37 296.91L788.42 296.91L788.47 296.91L788.52 296.91L788.58 296.91L788.63 296.91L788.68 296.91L788.73 296.91L788.79 296.91L788.84 296.91L788.89 296.91L788.94 296.91L788.99 296.91L789.05 296.92L789.10 296.92L789.15 296.92L789.20 296.92L789.25 296.92L789.31 296.92L789.36 296.92L789.41 296.92L789.46 296.92L789.51 296.92L789.56 296.92L789.61 296.93L789.67 296.93L789.72 296.93L789.77 296.93L789.82 296.93L789.87 296.93L789.92 296.93L789.97 296.93L790.02 296.94L790.07 296.94L790.12 296.94L790.18 296.94L790.23 296.94L790.28 296.94L790.33 296.94L790.38 296.94L790.43 296.95L790.48 296.95L790.53 296.95L790.58 296.95L790.63 296.95L790.68 296.95L790.73 296.95L790.78 296.96L790.83 296.96L790.88 296.96L790.93 296.96L790.98 296.96L791.03 296.96L791.08 296.96L791.13 296.97L791.18 296.97L791.23 296.97L791.28 296.97L791.32 296.97L791.37 296.97L791.42 296.97L791.47 296.98L791.52 296.98L791.57 296.98L791.62 296.98L791.67 296.98L791.72 296.98L791.77 296.98L791.81 296.98L791.86 296.99L791.91 296.99L791.96 296.99L792.01 296.99L792.06 296.99L792.11 296.99L792.15 296.99L792.20 296.99L792.25 296.99L792.30 297.00L792.35 297.00L792.40 297.00L792.44 297.00L792.49 297.00L792.54 297.00L792.59 297.00L792.64 297.00L792.68 297.00L792.73 297.00L792.78 297.00L792.83 297.01L792.87 297.01L792.92 297.01L792.97 297.01L793.02 297.01L793.06 297.01L793.11 297.01L793.16 297.01L793.21 297.01L793.25 297.01L793.30 297.01L793.35 297.01L793.39 297.01L793.44 297.01L793.49 297.01L793.54 297.01L793.58 297.01L793.63 297.01L793.68 297.01L793.72 297.01L793.77 297.01L793.82 297.01L793.86 297.01L793.91 297.01L793.95 297.01L794.00 297.01L794.05 297.01L794.09 297.01L794.14 297.01L794.19 297.01L794.23 297.01L794.28 297.01L794.32 297.01L794.37 297.01L794.42 297.01L794.46 297.01L794.51 297.01L794.55 297.01L794.60 297.01L794.65 297.01L794.69 297.00L794.74 297.00L794.78 297.00L794.83 297.00L794.87 297.00L794.92 297.00L794.96 297.00L795.01 297.00L795.05 297.00L795.10 296.99L795.14 296.99L795.19 296.99L795.23 296.99L795.28 296.99L795.32 296.99L795.37 296.98L795.41 296.98L795.46 296.98L795.50 296.98L795.55 296.98L795.59 296.98L795.64 296.97L795.68 296.97L795.73 296.97L795.77 296.97L795.82 296.97L795.86 296.96L795.91 296.96L795.95 296.96L795.99 296.96L796.04 296.95L796.08 296.95L796.13 296.95L796.17 296.95L796.21 296.94L796.26 296.94L796.30 296.94L796.35 296.93L796.39 296.93L796.43 296.93L796.48 296.93L796.52 296.92L796.57 296.92L796.61 296.92L796.65 296.91L796.70 296.91L796.74 296.91L796.78 296.90L796.83 296.90L796.87 296.89L796.91 296.89L796.96 296.89L797.00 296.88" fill="none" stroke="#49824e" stroke-width="2.10" stroke-linejoin="round"/>
<path d="M498.30 512.68L528.27 512.58L545.81 510.22L558.25 510.17L567.89 509.14L575.78 509.06L582.44 508.73L588.22 508.42L593.31 508.04L597.87 507.88L601.99 507.47L605.75 507.30L609.21 507.01L612.42 506.72L615.40 506.41L618.19 506.18L620.81 506.01L623.28 505.75L625.62 505.49L627.84 505.21L629.95 504.92L631.96 504.61L633.88 504.26L635.72 503.90L637.49 503.53L639.18 503.11L640.82 502.72L642.39 502.23L643.91 501.77L645.37 501.30L646.79 500.85L648.16 500.45L649.49 500.08L650.78 499.64L652.04 499.14L653.26 498.85L654.44 498.40L655.59 498.01L656.72 497.46L657.81 497.01L658.88 496.61L659.92 496.09L660.94 495.64L661.93 495.18L662.90 494.71L663.86 494.36L664.79 493.89L665.70 493.28L666.59 492.91L667.46 492.46L668.32 492.05L669.16 491.65L669.98 491.29L670.79 490.87L671.58 490.49L672.36 490.06L673.13 489.53L673.88 489.09L674.62 488.70L675.34 488.26L676.06 487.77L676.76 487.35L677.45 486.81L678.14 486.39L678.81 485.95L679.47 485.57L680.12 485.15L680.76 484.62L681.39 484.06L682.01 483.55L682.62 483.07L683.23 482.61L683.82 482.27L684.41 481.87L684.99 481.28L685.57 480.87L686.13 480.39L686.69 479.96L687.24 479.52L687.78 479.15L688.32 478.79L688.85 478.38L689.38 477.92L689.89 477.50L690.41 477.14L690.91 476.67L691.41 476.16L691.91 475.67L692.39 475.17L692.88 474.79L693.36 474.25L693.83 473.81L694.30 473.40L694.76 472.97L695.22 472.55L695.67 472.15L696.12 471.70L696.56 471.24L697.00 470.79L697.43 470.33L697.86 469.89L698.29 469.47L698.71 469.04L699.13 468.57L699.54 468.17L699.95 467.74L700.36 467.26L700.76 466.80L701.16 466.33L701.55 465.88L701.95 465.48L702.33 465.04L702.72 464.59L703.10 464.16L703.48 463.73L703.85 463.28L704.22 462.80L704.59 462.38L704.96 461.89L705.32 461.46L705.68 460.98L706.03 460.51L706.38 460.01L706.74 459.54L707.08 459.07L707.43 458.58L707.77 458.19L708.11 457.79L708.44 457.33L708.78 456.96L709.11 456.52L709.44 456.09L709.76 455.70L710.09 455.30L710.41 454.85L710.73 454.41L711.05 454.00L711.36 453.60L711.67 453.20L711.98 452.76L712.29 452.37L712.60 451.95L712.90 451.57L713.20 451.12L713.50 450.70L713.80 450.24L714.09 449.88L714.39 449.51L714.68 449.10L714.97 448.65L715.25 448.26L715.54 447.81L715.82 447.40L716.10 446.98L716.38 446.55L716.66 446.16L716.94 445.76L717.21 445.38L717.49 444.97L717.76 444.51L718.03 444.11L718.29 443.69L718.56 443.28L718.82 442.87L719.09 442.47L719.35 442.03L719.61 441.63L719.87 441.23L720.12 440.87L720.38 440.44L720.63 440.02L720.88 439.62L721.13 439.22L721.38 438.79L721.63 438.39L721.88 438.00L722.12 437.59L722.37 437.20L722.61 436.80L722.85 436.42L723.09 436.03L723.33 435.66L723.56 435.29L723.80 434.91L724.03 434.54L724.27 434.16L724.50 433.76L724.73 433.39L724.96 432.96L725.19 432.57L725.41 432.18L725.64 431.81L725.87 431.44L726.09 431.02L726.31 430.63L726.53 430.24L726.75 429.89L726.97 429.47L727.19 429.11L727.41 428.74L727.62 428.36L727.84 427.97L728.05 427.59L728.26 427.21L728.47 426.80L728.68 426.42L728.89 426.04L729.10 425.69L729.31 425.30L729.52 424.95L729.72 424.59L729.93 424.17L730.13 423.81L730.33 423.44L730.53 423.09L730.73 422.74L730.93 422.35L731.13 421.99L731.33 421.62L731.53 421.26L731.72 420.92L731.92 420.55L732.11 420.17L732.31 419.81L732.50 419.44L732.69 419.05L732.88 418.71L733.07 418.33L733.26 418.00L733.45 417.63L733.64 417.27L733.82 416.92L734.01 416.57L734.19 416.21L734.38 415.88L734.56 415.50L734.75 415.12L734.93 414.78L735.11 414.43L735.29 414.08L735.47 413.73L735.65 413.39L735.83 413.02L736.00 412.66L736.18 412.32L736.36 411.97L736.53 411.63L736.71 411.28L736.88 410.91L737.05 410.55L737.23 410.21L737.40 409.86L737.57 409.52L737.74 409.19L737.91 408.85L738.08 408.50L738.25 408.17L738.42 407.84L738.58 407.48L738.75 407.14L738.92 406.80L739.08 406.47L739.25 406.14L739.41 405.80L739.57 405.45L739.74 405.10L739.90 404.77L740.06 404.44L740.22 404.08L740.38 403.75L740.54 403.41L740.70 403.10L740.86 402.77L741.02 402.45L741.18 402.12L741.33 401.76L741.49 401.42L741.65 401.10L741.80 400.76L741.96 400.42L742.11 400.08L742.26 399.72L742.42 399.38L742.57 399.04L742.72 398.72L742.87 398.39L743.02 398.05L743.17 397.72L743.32 397.40L743.47 397.07L743.62 396.73L743.77 396.39L743.92 396.07L744.07 395.76L744.21 395.42L744.36 395.09L744.50 394.77L744.65 394.45L744.79 394.13L744.94 393.80L745.08 393.47L745.23 393.16L745.37 392.83L745.51 392.50L745.65 392.17L745.79 391.84L745.94 391.53L746.08 391.19L746.22 390.86L746.36 390.52L746.50 390.22L746.63 389.92L746.77 389.60L746.91 389.28L747.05 388.94L747.19 388.62L747.32 388.31L747.46 387.98L747.59 387.66L747.73 387.35L747.86 387.02L748.00 386.69L748.13 386.38L748.27 386.07L748.40 385.75L748.53 385.43L748.67 385.12L748.80 384.81L748.93 384.50L749.06 384.19L749.19 383.87L749.32 383.59L749.45 383.27L749.58 382.94L749.71 382.63L749.84 382.31L749.97 382.00L750.10 381.67L750.22 381.37L750.35 381.04L750.48 380.72L750.60 380.42L750.73 380.10L750.86 379.82L750.98 379.51L751.11 379.23L751.23 378.92L751.36 378.62L751.48 378.33L751.60 378.04L751.73 377.73L751.85 377.43L751.97 377.14L752.10 376.85L752.22 376.55L752.34 376.26L752.46 375.95L752.58 375.64L752.70 375.34L752.82 375.05L752.94 374.76L753.06 374.47L753.18 374.20L753.30 373.92L753.42 373.62L753.54 373.34L753.66 373.06L753.77 372.78L753.89 372.50L754.01 372.21L754.12 371.92L754.24 371.65L754.36 371.34L754.47 371.05L754.59 370.75L754.70 370.47L754.82 370.19L754.93 369.91L755.05 369.61L755.16 369.33L755.27 369.06L755.39 368.78L755.50 368.50L755.61 368.24L755.73 367.97L755.84 367.70L755.95 367.45L756.06 367.17L756.17 366.88L756.28 366.62L756.39 366.36L756.50 366.09L756.62 365.81L756.72 365.54L756.83 365.28L756.94 365.01L757.05 364.76L757.16 364.48L757.27 364.20L757.38 363.94L757.49 363.67L757.59 363.41L757.70 363.15L757.81 362.90L757.92 362.61L758.02 362.36L758.13 362.09L758.23 361.83L758.34 361.57L758.45 361.29L758.55 361.04L758.66 360.76L758.76 360.51L758.87 360.25L758.97 359.98L759.07 359.72L759.18 359.47L759.28 359.23L759.39 358.98L759.49 358.73L759.59 358.48L759.69 358.23L759.80 357.98L759.90 357.74L760.00 357.50L760.10 357.25L760.20 357.00L760.30 356.75L760.40 356.50L760.51 356.24L760.61 355.99L760.71 355.76L760.81 355.52L760.91 355.29L761.01 355.04L761.10 354.81L761.20 354.57L761.30 354.33L761.40 354.09L761.50 353.85L761.60 353.59L761.70 353.36L761.79 353.11L761.89 352.88L761.99 352.65L762.09 352.42L762.18 352.20L762.28 351.96L762.38 351.74L762.47 351.50L762.57 351.27L762.66 351.04L762.76 350.81L762.85 350.57L762.95 350.33L763.04 350.10L763.14 349.87L763.23 349.64L763.33 349.41L763.42 349.18L763.52 348.97L763.61 348.74L763.70 348.51L763.80 348.28L763.89 348.05L763.98 347.82L764.07 347.60L764.17 347.38L764.26 347.16L764.35 346.94L764.44 346.73L764.54 346.51L764.63 346.29L764.72 346.08L764.81 345.86L764.90 345.64L764.99 345.42L765.08 345.19L765.17 344.97L765.26 344.76L765.35 344.55L765.44 344.34L765.53 344.13L765.62 343.92L765.71 343.71L765.80 343.50L765.89 343.29L765.98 343.08L766.07 342.86L766.15 342.66L766.24 342.45L766.33 342.24L766.42 342.03L766.51 341.83L766.59 341.63L766.68 341.42L766.77 341.21L766.85 341.01L766.94 340.81L767.03 340.61L767.11 340.42L767.20 340.22L767.29 340.02L767.37 339.82L767.46 339.61L767.54 339.40L767.63 339.20L767.71 339.00L767.80 338.81L767.88 338.61L767.97 338.41L768.05 338.22L768.14 338.03L768.22 337.85L768.31 337.66L768.39 337.47L768.47 337.28L768.56 337.09L768.64 336.91L768.72 336.72L768.81 336.53L768.89 336.34L768.97 336.15L769.05 335.97L769.14 335.78L769.22 335.60L769.30 335.42L769.38 335.24L769.47 335.06L769.55 334.86L769.63 334.67L769.71 334.50L769.79 334.31L769.87 334.13L769.95 333.96L770.03 333.79L770.11 333.62L770.19 333.44L770.28 333.27L770.36 333.10L770.44 332.93L770.52 332.76L770.59 332.59L770.67 332.42L770.75 332.24L770.83 332.07L770.91 331.90L770.99 331.73L771.07 331.56L771.15 331.40L771.23 331.22L771.31 331.06L771.38 330.89L771.46 330.71L771.54 330.55L771.62 330.39L771.70 330.22L771.77 330.05L771.85 329.89L771.93 329.73L772.01 329.58L772.08 329.41L772.16 329.24L772.24 329.08L772.31 328.92L772.39 328.76L772.47 328.61L772.54 328.46L772.62 328.30L772.69 328.14L772.77 327.98L772.84 327.83L772.92 327.67L773.00 327.52L773.07 327.36L773.15 327.20L773.22 327.04L773.30 326.89L773.37 326.72L773.45 326.57L773.52 326.42L773.59 326.27L773.67 326.11L773.74 325.96L773.82 325.81L773.89 325.66L773.96 325.51L774.04 325.36L774.11 325.21L774.18 325.06L774.26 324.91L774.33 324.76L774.40 324.62L774.48 324.47L774.55 324.33L774.62 324.19L774.69 324.04L774.77 323.90L774.84 323.75L774.91 323.61L774.98 323.47L775.06 323.32L775.13 323.17L775.20 323.03L775.27 322.89L775.34 322.76L775.41 322.62L775.48 322.48L775.56 322.34L775.63 322.20L775.70 322.07L775.77 321.93L775.84 321.80L775.91 321.66L775.98 321.52L776.05 321.39L776.12 321.26L776.19 321.13L776.26 321.00L776.33 320.87L776.40 320.73L776.47 320.61L776.54 320.48L776.61 320.35L776.68 320.21L776.75 320.08L776.81 319.95L776.88 319.82L776.95 319.69L777.02 319.56L777.09 319.43L777.16 319.31L777.23 319.18L777.29 319.05L777.36 318.93L777.43 318.81L777.50 318.68L777.57 318.55L777.63 318.43L777.70 318.31L777.77 318.19L777.84 318.07L777.90 317.94L777.97 317.82L778.04 317.70L778.11 317.58L778.17 317.45L778.24 317.33L778.31 317.21L778.37 317.10L778.44 316.98L778.51 316.86L778.57 316.74L778.64 316.62L778.70 316.51L778.77 316.40L778.84 316.28L778.90 316.17L778.97 316.05L779.03 315.94L779.10 315.82L779.16 315.71L779.23 315.60L779.29 315.48L779.36 315.37L779.42 315.25L779.49 315.14L779.55 315.03L779.62 314.91L779.68 314.80L779.75 314.70L779.81 314.59L779.88 314.48L779.94 314.36L780.00 314.26L780.07 314.16L780.13 314.06L780.20 313.95L780.26 313.84L780.32 313.74L780.39 313.63L780.45 313.53L780.51 313.43L780.58 313.33L780.64 313.22L780.70 313.12L780.77 313.01L780.83 312.91L780.89 312.82L780.95 312.71L781.02 312.61L781.08 312.52L781.14 312.41L781.20 312.31L781.27 312.21L781.33 312.11L781.39 312.01L781.45 311.91L781.52 311.82L781.58 311.72L781.64 311.62L781.70 311.53L781.76 311.44L781.82 311.34L781.88 311.26L781.95 311.17L782.01 311.07L782.07 310.98L782.13 310.89L782.19 310.80L782.25 310.70L782.31 310.62L782.37 310.52L782.43 310.44L782.49 310.34L782.55 310.25L782.61 310.17L782.67 310.08L782.73 309.99L782.80 309.90L782.86 309.82L782.92 309.74L782.97 309.65L783.03 309.56L783.09 309.47L783.15 309.39L783.21 309.30L783.27 309.22L783.33 309.13L783.39 309.05L783.45 308.96L783.51 308.88L783.57 308.80L783.63 308.72L783.69 308.63L783.75 308.55L783.80 308.47L783.86 308.39L783.92 308.31L783.98 308.23L784.04 308.15L784.10 308.07L784.15 307.99L784.21 307.91L784.27 307.83L784.33 307.75L784.39 307.67L784.44 307.59L784.50 307.52L784.56 307.44L784.62 307.37L784.68 307.29L784.73 307.22L784.79 307.14L784.85 307.06L784.90 306.99L784.96 306.91L785.02 306.84L785.08 306.76L785.13 306.69L785.19 306.62L785.25 306.54L785.30 306.47L785.36 306.40L785.42 306.33L785.47 306.26L785.53 306.19L785.59 306.12L785.64 306.05L785.70 305.98L785.75 305.91L785.81 305.84L785.87 305.77L785.92 305.70L785.98 305.63L786.03 305.56L786.09 305.50L786.15 305.43L786.20 305.36L786.26 305.30L786.31 305.23L786.37 305.16L786.42 305.09L786.48 305.02L786.53 304.96L786.59 304.89L786.64 304.83L786.70 304.76L786.75 304.70L786.81 304.64L786.86 304.58L786.92 304.52L786.97 304.45L787.03 304.39L787.08 304.33L787.13 304.27L787.19 304.20L787.24 304.14L787.30 304.08L787.35 304.02L787.41 303.96L787.46 303.90L787.51 303.84L787.57 303.79L787.62 303.73L787.67 303.67L787.73 303.61L787.78 303.56L787.83 303.50L787.89 303.44L787.94 303.38L787.99 303.33L788.05 303.27L788.10 303.21L788.15 303.16L788.21 303.10L788.26 303.04L788.31 302.99L788.37 302.93L788.42 302.88L788.47 302.83L788.52 302.77L788.58 302.72L788.63 302.66L788.68 302.61L788.73 302.56L788.79 302.50L788.84 302.45L788.89 302.40L788.94 302.35L788.99 302.30L789.05 302.25L789.10 302.20L789.15 302.15L789.20 302.10L789.25 302.05L789.31 302.00L789.36 301.96L789.41 301.91L789.46 301.86L789.51 301.81L789.56 301.77L789.61 301.72L789.67 301.67L789.72 301.62L789.77 301.58L789.82 301.53L789.87 301.48L789.92 301.44L789.97 301.39L790.02 301.35L790.07 301.30L790.12 301.25L790.18 301.21L790.23 301.17L790.28 301.12L790.33 301.08L790.38 301.03L790.43 300.99L790.48 300.95L790.53 300.91L790.58 300.86L790.63 300.82L790.68 300.78L790.73 300.74L790.78 300.70L790.83 300.65L790.88 300.61L790.93 300.57L790.98 300.53L791.03 300.49L791.08 300.45L791.13 300.41L791.18 300.37L791.23 300.34L791.28 300.30L791.32 300.26L791.37 300.22L791.42 300.18L791.47 300.14L791.52 300.11L791.57 300.07L791.62 300.03L791.67 299.99L791.72 299.95L791.77 299.92L791.81 299.88L791.86 299.84L791.91 299.80L791.96 299.77L792.01 299.73L792.06 299.70L792.11 299.66L792.15 299.63L792.20 299.59L792.25 299.56L792.30 299.52L792.35 299.49L792.40 299.46L792.44 299.42L792.49 299.39L792.54 299.36L792.59 299.32L792.64 299.29L792.68 299.26L792.73 299.22L792.78 299.19L792.83 299.16L792.87 299.13L792.92 299.10L792.97 299.07L793.02 299.03L793.06 299.00L793.11 298.97L793.16 298.94L793.21 298.91L793.25 298.88L793.30 298.85L793.35 298.82L793.39 298.79L793.44 298.76L793.49 298.73L793.54 298.70L793.58 298.67L793.63 298.64L793.68 298.62L793.72 298.59L793.77 298.56L793.82 298.53L793.86 298.51L793.91 298.48L793.95 298.45L794.00 298.42L794.05 298.40L794.09 298.37L794.14 298.34L794.19 298.31L794.23 298.29L794.28 298.26L794.32 298.23L794.37 298.21L794.42 298.18L794.46 298.16L794.51 298.13L794.55 298.11L794.60 298.08L794.65 298.06L794.69 298.03L794.74 298.01L794.78 297.99L794.83 297.96L794.87 297.94L794.92 297.92L794.96 297.89L795.01 297.87L795.05 297.85L795.10 297.82L795.14 297.80L795.19 297.78L795.23 297.75L795.28 297.73L795.32 297.71L795.37 297.69L795.41 297.67L795.46 297.64L795.50 297.62L795.55 297.60L795.59 297.58L795.64 297.56L795.68 297.54L795.73 297.52L795.77 297.50L795.82 297.48L795.86 297.46L795.91 297.44L795.95 297.42L795.99 297.40L796.04 297.38L796.08 297.36L796.13 297.34L796.17 297.32L796.21 297.30L796.26 297.29L796.30 297.27L796.35 297.25L796.39 297.23L796.43 297.21L796.48 297.19L796.52 297.18L796.57 297.16L796.61 297.14L796.65 297.12L796.70 297.11L796.74 297.09L796.78 297.07L796.83 297.06L796.87 297.04L796.91 297.02L796.96 297.01L797.00 296.99" fill="none" stroke="#ff0d14" stroke-width="2.10" stroke-linejoin="round" stroke-dasharray="13 4.4 2.2 4.4 2.2 4.4 2.2 4.4"/>
</g>
<path d="M99.80 521.50v-4.50M99.80 296.50v4.50M129.77 521.50v-2.25M129.77 296.50v2.25M147.31 521.50v-2.25M147.31 296.50v2.25M159.75 521.50v-2.25M159.75 296.50v2.25M169.39 521.50v-2.25M169.39 296.50v2.25M177.28 521.50v-2.25M177.28 296.50v2.25M183.94 521.50v-2.25M183.94 296.50v2.25M189.72 521.50v-2.25M189.72 296.50v2.25M194.81 521.50v-2.25M194.81 296.50v2.25M199.37 521.50v-4.50M199.37 296.50v4.50M229.34 521.50v-2.25M229.34 296.50v2.25M246.87 521.50v-2.25M246.87 296.50v2.25M259.31 521.50v-2.25M259.31 296.50v2.25M268.96 521.50v-2.25M268.96 296.50v2.25M276.84 521.50v-2.25M276.84 296.50v2.25M283.51 521.50v-2.25M283.51 296.50v2.25M289.28 521.50v-2.25M289.28 296.50v2.25M294.38 521.50v-2.25M294.38 296.50v2.25M298.93 521.50v-4.50M298.93 296.50v4.50M328.91 521.50v-2.25M328.91 296.50v2.25M346.44 521.50v-2.25M346.44 296.50v2.25M358.88 521.50v-2.25M358.88 296.50v2.25M368.53 521.50v-2.25M368.53 296.50v2.25M376.41 521.50v-2.25M376.41 296.50v2.25M383.08 521.50v-2.25M383.08 296.50v2.25M388.85 521.50v-2.25M388.85 296.50v2.25M393.94 521.50v-2.25M393.94 296.50v2.25M398.50 521.50v-4.50M398.50 296.50v4.50M498.30 521.50v-4.50M498.30 296.50v4.50M528.27 521.50v-2.25M528.27 296.50v2.25M545.81 521.50v-2.25M545.81 296.50v2.25M558.25 521.50v-2.25M558.25 296.50v2.25M567.89 521.50v-2.25M567.89 296.50v2.25M575.78 521.50v-2.25M575.78 296.50v2.25M582.44 521.50v-2.25M582.44 296.50v2.25M588.22 521.50v-2.25M588.22 296.50v2.25M593.31 521.50v-2.25M593.31 296.50v2.25M597.87 521.50v-4.50M597.87 296.50v4.50M627.84 521.50v-2.25M627.84 296.50v2.25M645.37 521.50v-2.25M645.37 296.50v2.25M657.81 521.50v-2.25M657.81 296.50v2.25M667.46 521.50v-2.25M667.46 296.50v2.25M675.34 521.50v-2.25M675.34 296.50v2.25M682.01 521.50v-2.25M682.01 296.50v2.25M687.78 521.50v-2.25M687.78 296.50v2.25M692.88 521.50v-2.25M692.88 296.50v2.25M697.43 521.50v-4.50M697.43 296.50v4.50M727.41 521.50v-2.25M727.41 296.50v2.25M744.94 521.50v-2.25M744.94 296.50v2.25M757.38 521.50v-2.25M757.38 296.50v2.25M767.03 521.50v-2.25M767.03 296.50v2.25M774.91 521.50v-2.25M774.91 296.50v2.25M781.58 521.50v-2.25M781.58 296.50v2.25M787.35 521.50v-2.25M787.35 296.50v2.25M792.44 521.50v-2.25M792.44 296.50v2.25M797.00 521.50v-4.50M797.00 296.50v4.50M99.80 521.50h6.00M398.50 521.50h-6.00M99.80 430.67h6.00M398.50 430.67h-6.00M99.80 339.84h6.00M398.50 339.84h-6.00M99.80 494.16h3.00M398.50 494.16h-3.00M99.80 478.16h3.00M398.50 478.16h-3.00M99.80 466.81h3.00M398.50 466.81h-3.00M99.80 458.01h3.00M398.50 458.01h-3.00M99.80 450.82h3.00M398.50 450.82h-3.00M99.80 444.74h3.00M398.50 444.74h-3.00M99.80 439.47h3.00M398.50 439.47h-3.00M99.80 434.82h3.00M398.50 434.82h-3.00M99.80 403.33h3.00M398.50 403.33h-3.00M99.80 387.33h3.00M398.50 387.33h-3.00M99.80 375.98h3.00M398.50 375.98h-3.00M99.80 367.18h3.00M398.50 367.18h-3.00M99.80 359.99h3.00M398.50 359.99h-3.00M99.80 353.91h3.00M398.50 353.91h-3.00M99.80 348.64h3.00M398.50 348.64h-3.00M99.80 343.99h3.00M398.50 343.99h-3.00M99.80 312.49h3.00M398.50 312.49h-3.00M99.80 296.50h3.00M398.50 296.50h-3.00M498.30 478.32h6.00M797.00 478.32h-6.00M498.30 432.86h6.00M797.00 432.86h-6.00M498.30 387.41h6.00M797.00 387.41h-6.00M498.30 341.95h6.00M797.00 341.95h-6.00M498.30 296.50h6.00M797.00 296.50h-6.00M498.30 512.41h3.00M797.00 512.41h-3.00M498.30 501.05h3.00M797.00 501.05h-3.00M498.30 489.68h3.00M797.00 489.68h-3.00M498.30 466.95h3.00M797.00 466.95h-3.00M498.30 455.59h3.00M797.00 455.59h-3.00M498.30 444.23h3.00M797.00 444.23h-3.00M498.30 421.50h3.00M797.00 421.50h-3.00M498.30 410.14h3.00M797.00 410.14h-3.00M498.30 398.77h3.00M797.00 398.77h-3.00M498.30 376.05h3.00M797.00 376.05h-3.00M498.30 364.68h3.00M797.00 364.68h-3.00M498.30 353.32h3.00M797.00 353.32h-3.00M498.30 330.59h3.00M797.00 330.59h-3.00M498.30 319.23h3.00M797.00 319.23h-3.00M498.30 307.86h3.00M797.00 307.86h-3.00" fill="none" stroke="#000" stroke-width="1.80"/>
<rect x="99.80" y="296.50" width="298.70" height="225.00" fill="none" stroke="#000" stroke-linejoin="round" stroke-width="2.20"/>
<rect x="498.30" y="296.50" width="298.70" height="225.00" fill="none" stroke="#000" stroke-linejoin="round" stroke-width="2.20"/>
<path d="M97.24 540.12L98.52 539.48L100.44 537.56L100.44 551.00" fill="none" stroke="#2e2e2e" stroke-width="1.00" stroke-linecap="round" stroke-linejoin="round"/>
<path d="M190.41 540.12L191.69 539.48L193.61 537.56L193.61 551.00M205.13 537.56L203.21 538.20L201.93 540.12L201.29 543.32L201.29 545.24L201.93 548.44L203.21 550.36L205.13 551.00L206.41 551.00L208.33 550.36L209.61 548.44L210.25 545.24L210.25 543.32L209.61 540.12L208.33 538.20L206.41 537.56L205.13 537.56" fill="none" stroke="#2e2e2e" stroke-width="1.00" stroke-linecap="round" stroke-linejoin="round"/>
<path d="M283.57 540.12L284.85 539.48L286.77 537.56L286.77 551.00M298.29 537.56L296.37 538.20L295.09 540.12L294.45 543.32L294.45 545.24L295.09 548.44L296.37 550.36L298.29 551.00L299.57 551.00L301.49 550.36L302.77 548.44L303.41 545.24L303.41 543.32L302.77 540.12L301.49 538.20L299.57 537.56L298.29 537.56M311.09 537.56L309.17 538.20L307.89 540.12L307.25 543.32L307.25 545.24L307.89 548.44L309.17 550.36L311.09 551.00L312.37 551.00L314.29 550.36L315.57 548.44L316.21 545.24L316.21 543.32L315.57 540.12L314.29 538.20L312.37 537.56L311.09 537.56" fill="none" stroke="#2e2e2e" stroke-width="1.00" stroke-linecap="round" stroke-linejoin="round"/>
<path d="M376.74 540.12L378.02 539.48L379.94 537.56L379.94 551.00M391.46 537.56L389.54 538.20L388.26 540.12L387.62 543.32L387.62 545.24L388.26 548.44L389.54 550.36L391.46 551.00L392.74 551.00L394.66 550.36L395.94 548.44L396.58 545.24L396.58 543.32L395.94 540.12L394.66 538.20L392.74 537.56L391.46 537.56M404.26 537.56L402.34 538.20L401.06 540.12L400.42 543.32L400.42 545.24L401.06 548.44L402.34 550.36L404.26 551.00L405.54 551.00L407.46 550.36L408.74 548.44L409.38 545.24L409.38 543.32L408.74 540.12L407.46 538.20L405.54 537.56L404.26 537.56M417.06 537.56L415.14 538.20L413.86 540.12L413.22 543.32L413.22 545.24L413.86 548.44L415.14 550.36L417.06 551.00L418.34 551.00L420.26 550.36L421.54 548.44L422.18 545.24L422.18 543.32L421.54 540.12L420.26 538.20L418.34 537.56L417.06 537.56" fill="none" stroke="#2e2e2e" stroke-width="1.00" stroke-linecap="round" stroke-linejoin="round"/>
<path d="M495.74 540.12L497.02 539.48L498.94 537.56L498.94 551.00" fill="none" stroke="#2e2e2e" stroke-width="1.00" stroke-linecap="round" stroke-linejoin="round"/>
<path d="M588.91 540.12L590.19 539.48L592.11 537.56L592.11 551.00M603.63 537.56L601.71 538.20L600.43 540.12L599.79 543.32L599.79 545.24L600.43 548.44L601.71 550.36L603.63 551.00L604.91 551.00L606.83 550.36L608.11 548.44L608.75 545.24L608.75 543.32L608.11 540.12L606.83 538.20L604.91 537.56L603.63 537.56" fill="none" stroke="#2e2e2e" stroke-width="1.00" stroke-linecap="round" stroke-linejoin="round"/>
<path d="M682.07 540.12L683.35 539.48L685.27 537.56L685.27 551.00M696.79 537.56L694.87 538.20L693.59 540.12L692.95 543.32L692.95 545.24L693.59 548.44L694.87 550.36L696.79 551.00L698.07 551.00L699.99 550.36L701.27 548.44L701.91 545.24L701.91 543.32L701.27 540.12L699.99 538.20L698.07 537.56L696.79 537.56M709.59 537.56L707.67 538.20L706.39 540.12L705.75 543.32L705.75 545.24L706.39 548.44L707.67 550.36L709.59 551.00L710.87 551.00L712.79 550.36L714.07 548.44L714.71 545.24L714.71 543.32L714.07 540.12L712.79 538.20L710.87 537.56L709.59 537.56" fill="none" stroke="#2e2e2e" stroke-width="1.00" stroke-linecap="round" stroke-linejoin="round"/>
<path d="M775.24 540.12L776.52 539.48L778.44 537.56L778.44 551.00M789.96 537.56L788.04 538.20L786.76 540.12L786.12 543.32L786.12 545.24L786.76 548.44L788.04 550.36L789.96 551.00L791.24 551.00L793.16 550.36L794.44 548.44L795.08 545.24L795.08 543.32L794.44 540.12L793.16 538.20L791.24 537.56L789.96 537.56M802.76 537.56L800.84 538.20L799.56 540.12L798.92 543.32L798.92 545.24L799.56 548.44L800.84 550.36L802.76 551.00L804.04 551.00L805.96 550.36L807.24 548.44L807.88 545.24L807.88 543.32L807.24 540.12L805.96 538.20L804.04 537.56L802.76 537.56M815.56 537.56L813.64 538.20L812.36 540.12L811.72 543.32L811.72 545.24L812.36 548.44L813.64 550.36L815.56 551.00L816.84 551.00L818.76 550.36L820.04 548.44L820.68 545.24L820.68 543.32L820.04 540.12L818.76 538.20L816.84 537.56L815.56 537.56" fill="none" stroke="#2e2e2e" stroke-width="1.00" stroke-linecap="round" stroke-linejoin="round"/>
<path d="M57.86 336.76L59.14 336.12L61.06 334.20L61.06 347.64M72.58 334.20L70.66 334.84L69.38 336.76L68.74 339.96L68.74 341.88L69.38 345.08L70.66 347.00L72.58 347.64L73.86 347.64L75.78 347.00L77.06 345.08L77.70 341.88L77.70 339.96L77.06 336.76L75.78 334.84L73.86 334.20L72.58 334.20M81.77 336.02L86.84 336.02M89.09 334.04L89.09 333.76L89.38 333.20L89.66 332.92L90.22 332.64L91.35 332.64L91.91 332.92L92.19 333.20L92.47 333.76L92.47 334.33L92.19 334.89L91.63 335.73L88.81 338.55L92.76 338.55" fill="none" stroke="#2e2e2e" stroke-width="1.00" stroke-linecap="round" stroke-linejoin="round"/>
<path d="M57.86 427.59L59.14 426.95L61.06 425.03L61.06 438.47M72.58 425.03L70.66 425.67L69.38 427.59L68.74 430.79L68.74 432.71L69.38 435.91L70.66 437.83L72.58 438.47L73.86 438.47L75.78 437.83L77.06 435.91L77.70 432.71L77.70 430.79L77.06 427.59L75.78 425.67L73.86 425.03L72.58 425.03M81.77 426.85L86.84 426.85M89.38 423.47L92.47 423.47L90.78 425.72L91.63 425.72L92.19 426.00L92.47 426.28L92.76 427.13L92.76 427.69L92.47 428.54L91.91 429.10L91.07 429.38L90.22 429.38L89.38 429.10L89.09 428.82L88.81 428.25" fill="none" stroke="#2e2e2e" stroke-width="1.00" stroke-linecap="round" stroke-linejoin="round"/>
<path d="M57.86 511.22L59.14 510.58L61.06 508.66L61.06 522.10M72.58 508.66L70.66 509.30L69.38 511.22L68.74 514.42L68.74 516.34L69.38 519.54L70.66 521.46L72.58 522.10L73.86 522.10L75.78 521.46L77.06 519.54L77.70 516.34L77.70 514.42L77.06 511.22L75.78 509.30L73.86 508.66L72.58 508.66M81.77 510.48L86.84 510.48M91.63 507.10L88.81 511.04L93.04 511.04M91.63 507.10L91.63 513.01" fill="none" stroke="#2e2e2e" stroke-width="1.00" stroke-linecap="round" stroke-linejoin="round"/>
<path d="M464.66 472.78L462.74 473.42L461.46 475.34L460.82 478.54L460.82 480.46L461.46 483.66L462.74 485.58L464.66 486.22L465.94 486.22L467.86 485.58L469.14 483.66L469.78 480.46L469.78 478.54L469.14 475.34L467.86 473.42L465.94 472.78L464.66 472.78M474.90 484.94L474.26 485.58L474.90 486.22L475.54 485.58L474.90 484.94M480.66 475.98L480.66 475.34L481.30 474.06L481.94 473.42L483.22 472.78L485.78 472.78L487.06 473.42L487.70 474.06L488.34 475.34L488.34 476.62L487.70 477.90L486.42 479.82L480.02 486.22L488.98 486.22" fill="none" stroke="#2e2e2e" stroke-width="1.00" stroke-linecap="round" stroke-linejoin="round"/>
<path d="M464.66 427.32L462.74 427.96L461.46 429.88L460.82 433.08L460.82 435.00L461.46 438.20L462.74 440.12L464.66 440.76L465.94 440.76L467.86 440.12L469.14 438.20L469.78 435.00L469.78 433.08L469.14 429.88L467.86 427.96L465.94 427.32L464.66 427.32M474.90 439.48L474.26 440.12L474.90 440.76L475.54 440.12L474.90 439.48M486.42 427.32L480.02 436.28L489.62 436.28M486.42 427.32L486.42 440.76" fill="none" stroke="#2e2e2e" stroke-width="1.00" stroke-linecap="round" stroke-linejoin="round"/>
<path d="M464.66 381.87L462.74 382.51L461.46 384.43L460.82 387.63L460.82 389.55L461.46 392.75L462.74 394.67L464.66 395.31L465.94 395.31L467.86 394.67L469.14 392.75L469.78 389.55L469.78 387.63L469.14 384.43L467.86 382.51L465.94 381.87L464.66 381.87M474.90 394.03L474.26 394.67L474.90 395.31L475.54 394.67L474.90 394.03M488.34 383.79L487.70 382.51L485.78 381.87L484.50 381.87L482.58 382.51L481.30 384.43L480.66 387.63L480.66 390.83L481.30 393.39L482.58 394.67L484.50 395.31L485.14 395.31L487.06 394.67L488.34 393.39L488.98 391.47L488.98 390.83L488.34 388.91L487.06 387.63L485.14 386.99L484.50 386.99L482.58 387.63L481.30 388.91L480.66 390.83" fill="none" stroke="#2e2e2e" stroke-width="1.00" stroke-linecap="round" stroke-linejoin="round"/>
<path d="M464.66 336.41L462.74 337.05L461.46 338.97L460.82 342.17L460.82 344.09L461.46 347.29L462.74 349.21L464.66 349.85L465.94 349.85L467.86 349.21L469.14 347.29L469.78 344.09L469.78 342.17L469.14 338.97L467.86 337.05L465.94 336.41L464.66 336.41M474.90 348.57L474.26 349.21L474.90 349.85L475.54 349.21L474.90 348.57M483.22 336.41L481.30 337.05L480.66 338.33L480.66 339.61L481.30 340.89L482.58 341.53L485.14 342.17L487.06 342.81L488.34 344.09L488.98 345.37L488.98 347.29L488.34 348.57L487.70 349.21L485.78 349.85L483.22 349.85L481.30 349.21L480.66 348.57L480.02 347.29L480.02 345.37L480.66 344.09L481.94 342.81L483.86 342.17L486.42 341.53L487.70 340.89L488.34 339.61L488.34 338.33L487.70 337.05L485.78 336.41L483.22 336.41" fill="none" stroke="#2e2e2e" stroke-width="1.00" stroke-linecap="round" stroke-linejoin="round"/>
<path d="M462.74 299.32L464.02 298.68L465.94 296.76L465.94 310.20M474.90 308.92L474.26 309.56L474.90 310.20L475.54 309.56L474.90 308.92M483.86 296.76L481.94 297.40L480.66 299.32L480.02 302.52L480.02 304.44L480.66 307.64L481.94 309.56L483.86 310.20L485.14 310.20L487.06 309.56L488.34 307.64L488.98 304.44L488.98 302.52L488.34 299.32L487.06 297.40L485.14 296.76L483.86 296.76" fill="none" stroke="#2e2e2e" stroke-width="1.00" stroke-linecap="round" stroke-linejoin="round"/>
<path d="M365.16 310.10L363.84 311.42L362.52 313.40L361.20 316.04L360.54 319.34L360.54 321.98L361.20 325.28L362.52 327.92L363.84 329.90L365.16 331.22M377.04 317.36L377.04 326.60M377.04 319.34L375.72 318.02L374.40 317.36L372.42 317.36L371.10 318.02L369.78 319.34L369.12 321.32L369.12 322.64L369.78 324.62L371.10 325.94L372.42 326.60L374.40 326.60L375.72 325.94L377.04 324.62M381.66 310.10L382.98 311.42L384.30 313.40L385.62 316.04L386.28 319.34L386.28 321.98L385.62 325.28L384.30 327.92L382.98 329.90L381.66 331.22" fill="none" stroke="#2e2e2e" stroke-width="1.00" stroke-linecap="round" stroke-linejoin="round"/>
<path d="M516.26 310.10L514.94 311.42L513.62 313.40L512.30 316.04L511.64 319.34L511.64 321.98L512.30 325.28L513.62 327.92L514.94 329.90L516.26 331.22M520.88 312.74L520.88 326.60M520.88 319.34L522.20 318.02L523.52 317.36L525.50 317.36L526.82 318.02L528.14 319.34L528.80 321.32L528.80 322.64L528.14 324.62L526.82 325.94L525.50 326.60L523.52 326.60L522.20 325.94L520.88 324.62M532.76 310.10L534.08 311.42L535.40 313.40L536.72 316.04L537.38 319.34L537.38 321.98L536.72 325.28L535.40 327.92L534.08 329.90L532.76 331.22" fill="none" stroke="#2e2e2e" stroke-width="1.00" stroke-linecap="round" stroke-linejoin="round"/>
<path d="M242.93 563.44L245.90 563.44M245.90 563.44L242.14 574.99L241.94 576.31L242.47 577.17L243.59 577.30L244.78 576.64L245.90 575.58L246.76 574.46" fill="none" stroke="#1a1a1a" stroke-width="1.15" stroke-linecap="round" stroke-linejoin="round"/>
<path d="M641.03 563.44L644.00 563.44M644.00 563.44L640.24 574.99L640.04 576.31L640.57 577.17L641.69 577.30L642.88 576.64L644.00 575.58L644.86 574.46" fill="none" stroke="#1a1a1a" stroke-width="1.15" stroke-linecap="round" stroke-linejoin="round"/>
<path d="M18.80 505.39L20.12 507.11L22.10 509.02L24.74 511.13L28.04 512.78L30.68 513.57L33.98 513.90L36.62 513.38L38.60 512.65L39.92 511.73M24.74 502.55L24.08 502.35L22.76 501.30L22.10 500.44L21.44 498.92L21.44 496.28L22.10 495.16L22.76 494.70L24.08 494.43L25.40 494.83L26.72 495.89L28.70 497.80L35.30 506.38L35.30 497.14M21.44 491.53L21.44 488.56M21.44 488.56L32.99 492.32L34.31 492.52L35.17 491.99L35.30 490.87L34.64 489.68L33.58 488.56L32.46 487.70M23.42 478.00L35.30 478.00M29.36 483.94L29.36 472.06M24.08 462.09L23.42 460.58L21.44 458.00L35.30 462.16M18.80 450.12L20.12 449.12L22.10 448.30L24.74 447.64L28.04 447.81L30.68 448.47L33.98 449.95L36.62 451.93L38.60 453.75L39.92 455.39M22.76 432.88L21.44 432.49L25.40 433.28M22.76 432.88L21.77 433.67L21.44 435.26L21.44 437.24L22.10 439.61L23.75 441.59L26.06 443.18L28.70 443.97L31.01 444.21L32.99 443.73L34.31 442.78L35.10 441.20L35.30 439.22L34.90 437.24L33.98 435.65L32.33 434.47M31.84 431.32L31.84 430.02M31.84 430.02L36.92 431.67L37.50 431.76L37.88 431.53L37.94 431.03L37.65 430.51L37.18 430.02L36.69 429.64" fill="none" stroke="#333" stroke-width="1.05" stroke-linecap="round" stroke-linejoin="round"/>
<path d="M18.80 416.09L39.92 427.97M24.74 412.13L24.08 412.13L22.76 411.47L22.10 410.81L21.44 409.49L21.44 406.85L22.10 405.53L22.76 404.87L24.08 404.21L25.40 404.21L26.72 404.87L28.70 406.19L35.30 412.79L35.30 403.55M26.06 395.63L35.30 398.27M26.06 392.33L30.02 391.67L33.32 391.01L35.30 390.35M28.04 400.25L26.72 398.93L26.06 396.95L26.06 388.37M18.80 373.85L39.92 385.73M18.47 365.27L18.47 369.89L40.25 369.89L40.25 365.27M18.47 369.23L40.25 369.23M18.80 356.03L20.12 357.35L22.10 358.67L24.74 359.99L28.04 360.65L30.68 360.65L33.98 359.99L36.62 358.67L38.60 357.35L39.92 356.03M26.06 349.43L39.92 353.39M26.06 348.84L39.92 352.80M28.70 350.09L32.66 350.75L34.64 350.75L35.30 349.43L35.30 348.11L34.64 346.79L33.32 345.47L30.68 344.15M26.06 342.83L30.68 344.15L33.32 344.81L34.64 344.81L35.30 344.15L35.30 342.83L33.98 341.51L32.66 340.85M21.44 336.89L35.30 336.89M21.44 327.65L30.68 336.89M27.38 333.59L35.30 327.65M18.80 323.69L20.12 322.37L22.10 321.05L24.74 319.73L28.04 319.07L30.68 319.07L33.98 319.73L36.62 321.05L38.60 322.37L39.92 323.69M20.75 315.27L20.46 315.27L19.88 314.98L19.59 314.69L19.30 314.11L19.30 312.95L19.59 312.37L19.88 312.08L20.46 311.79L21.04 311.79L21.62 312.08L22.50 312.66L25.40 315.56L25.40 311.50M18.47 308.64L18.47 304.02L40.25 304.02L40.25 308.64M18.47 304.68L40.25 304.68" fill="none" stroke="#2e2e2e" stroke-width="1.00" stroke-linecap="round" stroke-linejoin="round"/>
<path d="M428.70 444.03L427.04 443.50L431.02 444.37M428.70 444.03L427.50 445.03L427.04 447.03L427.04 448.69L427.70 450.49L429.03 451.48L430.69 451.48L431.82 450.82L434.68 447.03L436.01 446.03L437.68 446.03L439.34 446.69L440.47 448.02L441.00 450.02L441.00 451.68L440.33 453.34L439.14 454.28M439.14 454.28L437.01 453.68L441.00 454.68M424.38 430.40L425.70 432.13L427.70 434.06L430.36 436.19L433.69 437.85L436.35 438.65L439.67 438.98L442.33 438.45L444.32 437.72L445.65 436.79M427.04 429.74L427.04 426.75M427.04 426.75L438.67 430.54L440.00 430.74L440.87 430.20L441.00 429.07L440.33 427.88L439.27 426.75L438.14 425.88M424.38 418.93L425.70 417.91L427.70 417.04L430.36 416.32L433.69 416.42L436.35 417.03L439.67 418.46L442.33 420.40L444.32 422.19L445.65 423.83" fill="none" stroke="#333" stroke-width="1.05" stroke-linecap="round" stroke-linejoin="round"/>
<path d="M424.38 402.14L445.65 414.11M424.04 393.50L424.04 398.15L445.99 398.15L445.99 393.50M424.04 397.49L445.99 397.49M431.69 386.84L445.65 390.83M431.69 386.25L445.65 390.24M434.35 387.51L438.34 388.18L440.33 388.18L441.00 386.84L441.00 385.51L440.33 384.19L439.00 382.86L436.35 381.52M431.69 380.19L436.35 381.52L439.00 382.19L440.33 382.19L441.00 381.52L441.00 380.19L439.67 378.87L438.34 378.20M427.04 374.21L441.00 374.21M427.04 364.90L436.35 374.21M433.02 370.88L441.00 364.90M424.04 360.91L424.04 356.25L445.99 356.25L445.99 360.91M424.04 356.92L445.99 356.92" fill="none" stroke="#2e2e2e" stroke-width="1.00" stroke-linecap="round" stroke-linejoin="round"/>
<path d="M515.4 358.05H558.2" stroke="#0d0dff" stroke-width="2.10" stroke-dasharray="10.2 7.6"/>
<g fill="none" stroke="#3030ff" stroke-width="1.15"><ellipse cx="574.4" cy="357.85" rx="5.3" ry="6.6"/><path stroke-width="1.3" d="M572.2 357.85H576.8M572.2 356.35v3M576.8 356.35v3"/></g>
<path d="M584.3 357.05H595.8M584.3 360.85H595.8" stroke="#3030ff" stroke-width="0.8" fill="none"/>
<path d="M620.61 361.13Q620.61 362.97 619.16 364.01Q617.7 365.05 615.04 365.05Q612.81 365.05 610.81 364.62L610.69 361.74H611.46L611.99 363.66Q612.45 363.88 613.29 364.04Q614.12 364.21 614.85 364.21Q616.69 364.21 617.57 363.47Q618.45 362.74 618.45 361.02Q618.45 359.68 617.65 358.98Q616.84 358.28 615.13 358.21L613.46 358.12V357.29L615.13 357.2Q616.46 357.13 617.09 356.48Q617.73 355.83 617.73 354.5Q617.73 353.12 617.04 352.5Q616.35 351.87 614.85 351.87Q614.23 351.87 613.55 352.02Q612.87 352.17 612.35 352.41L611.94 354.08H611.17V351.45Q612.33 351.19 613.17 351.1Q614.02 351.01 614.85 351.01Q619.9 351.01 619.9 354.38Q619.9 355.8 619 356.64Q618.1 357.48 616.46 357.69Q618.6 357.9 619.6 358.75Q620.61 359.6 620.61 361.13Z" fill="#3030ff" stroke="#fff" stroke-width="0.25"/>
<path d="M632.79 357.95Q632.79 365.05 627.63 365.05Q625.14 365.05 623.87 363.24Q622.61 361.42 622.61 357.95Q622.61 354.55 623.87 352.75Q625.14 350.95 627.72 350.95Q630.21 350.95 631.5 352.73Q632.79 354.51 632.79 357.95ZM630.63 357.95Q630.63 354.67 629.92 353.22Q629.2 351.77 627.63 351.77Q626.1 351.77 625.43 353.13Q624.77 354.5 624.77 357.95Q624.77 361.42 625.45 362.83Q626.13 364.25 627.63 364.25Q629.18 364.25 629.91 362.76Q630.63 361.28 630.63 357.95Z" fill="#3030ff" stroke="#fff" stroke-width="0.25"/>
<path d="M638.9 351.65L637.1 356.25" stroke="#3030ff" stroke-width="1.1" stroke-linecap="round"/>
<path d="M515.4 380.75H558.2" stroke="#49824e" stroke-width="2.10"/>
<g fill="none" stroke="#558a59" stroke-width="1.15"><ellipse cx="574.4" cy="380.55" rx="5.3" ry="6.6"/><path stroke-width="1.3" d="M572.2 380.55H576.8M572.2 379.05v3M576.8 379.05v3"/></g>
<path d="M584.3 379.75H595.8M584.3 383.55H595.8" stroke="#558a59" stroke-width="0.8" fill="none"/>
<path d="M616.67 386.73 619.88 387.01V387.55H611.42V387.01L614.65 386.73V375.57L611.47 376.56V376.02L616.05 373.75H616.67Z" fill="#558a59" stroke="#fff" stroke-width="0.25"/>
<path d="M627.15 379.55Q629.88 379.55 631.21 380.52Q632.54 381.49 632.54 383.48Q632.54 385.54 631.1 386.65Q629.65 387.75 626.97 387.75Q624.74 387.75 622.99 387.32L622.86 384.44H623.63L624.16 386.36Q624.68 386.6 625.4 386.75Q626.12 386.91 626.78 386.91Q628.63 386.91 629.51 386.15Q630.38 385.39 630.38 383.58Q630.38 382.31 630.01 381.67Q629.63 381.02 628.81 380.71Q627.99 380.41 626.6 380.41Q625.53 380.41 624.51 380.65H623.39V373.86H631.37V375.43H624.44V379.79Q625.71 379.55 627.15 379.55Z" fill="#558a59" stroke="#fff" stroke-width="0.25"/>
<path d="M638.9 374.35L637.1 378.95" stroke="#558a59" stroke-width="1.1" stroke-linecap="round"/>
<path d="M515.4 403.45H558.2" stroke="#ff0d14" stroke-width="2.10" stroke-dasharray="13 4.4 2.2 4.4 2.2 4.4 2.2 4.4"/>
<g fill="none" stroke="#ff3036" stroke-width="1.15"><ellipse cx="574.4" cy="403.25" rx="5.3" ry="6.6"/><path stroke-width="1.3" d="M572.2 403.25H576.8M572.2 401.75v3M576.8 401.75v3"/></g>
<path d="M584.3 402.45H595.8M584.3 406.25H595.8" stroke="#ff3036" stroke-width="0.8" fill="none"/>
<path d="M620.61 406.53Q620.61 408.37 619.16 409.41Q617.7 410.45 615.04 410.45Q612.81 410.45 610.81 410.02L610.69 407.14H611.46L611.99 409.06Q612.45 409.28 613.29 409.44Q614.12 409.61 614.85 409.61Q616.69 409.61 617.57 408.87Q618.45 408.14 618.45 406.42Q618.45 405.08 617.65 404.38Q616.84 403.68 615.13 403.61L613.46 403.52V402.69L615.13 402.6Q616.46 402.53 617.09 401.88Q617.73 401.23 617.73 399.9Q617.73 398.52 617.04 397.9Q616.35 397.27 614.85 397.27Q614.23 397.27 613.55 397.42Q612.87 397.57 612.35 397.81L611.94 399.48H611.17V396.85Q612.33 396.59 613.17 396.5Q614.02 396.41 614.85 396.41Q619.9 396.41 619.9 399.78Q619.9 401.2 619 402.04Q618.1 402.88 616.46 403.09Q618.6 403.3 619.6 404.15Q620.61 405 620.61 406.53Z" fill="#ff3036" stroke="#fff" stroke-width="0.25"/>
<path d="M632.79 403.35Q632.79 410.45 627.63 410.45Q625.14 410.45 623.87 408.64Q622.61 406.82 622.61 403.35Q622.61 399.95 623.87 398.15Q625.14 396.35 627.72 396.35Q630.21 396.35 631.5 398.13Q632.79 399.91 632.79 403.35ZM630.63 403.35Q630.63 400.07 629.92 398.62Q629.2 397.17 627.63 397.17Q626.1 397.17 625.43 398.53Q624.77 399.9 624.77 403.35Q624.77 406.82 625.45 408.23Q626.13 409.65 627.63 409.65Q629.18 409.65 629.91 408.16Q630.63 406.68 630.63 403.35Z" fill="#ff3036" stroke="#fff" stroke-width="0.25"/>
<path d="M638.9 397.05L637.1 401.65" stroke="#ff3036" stroke-width="1.1" stroke-linecap="round"/>
</svg>
</body></html>
